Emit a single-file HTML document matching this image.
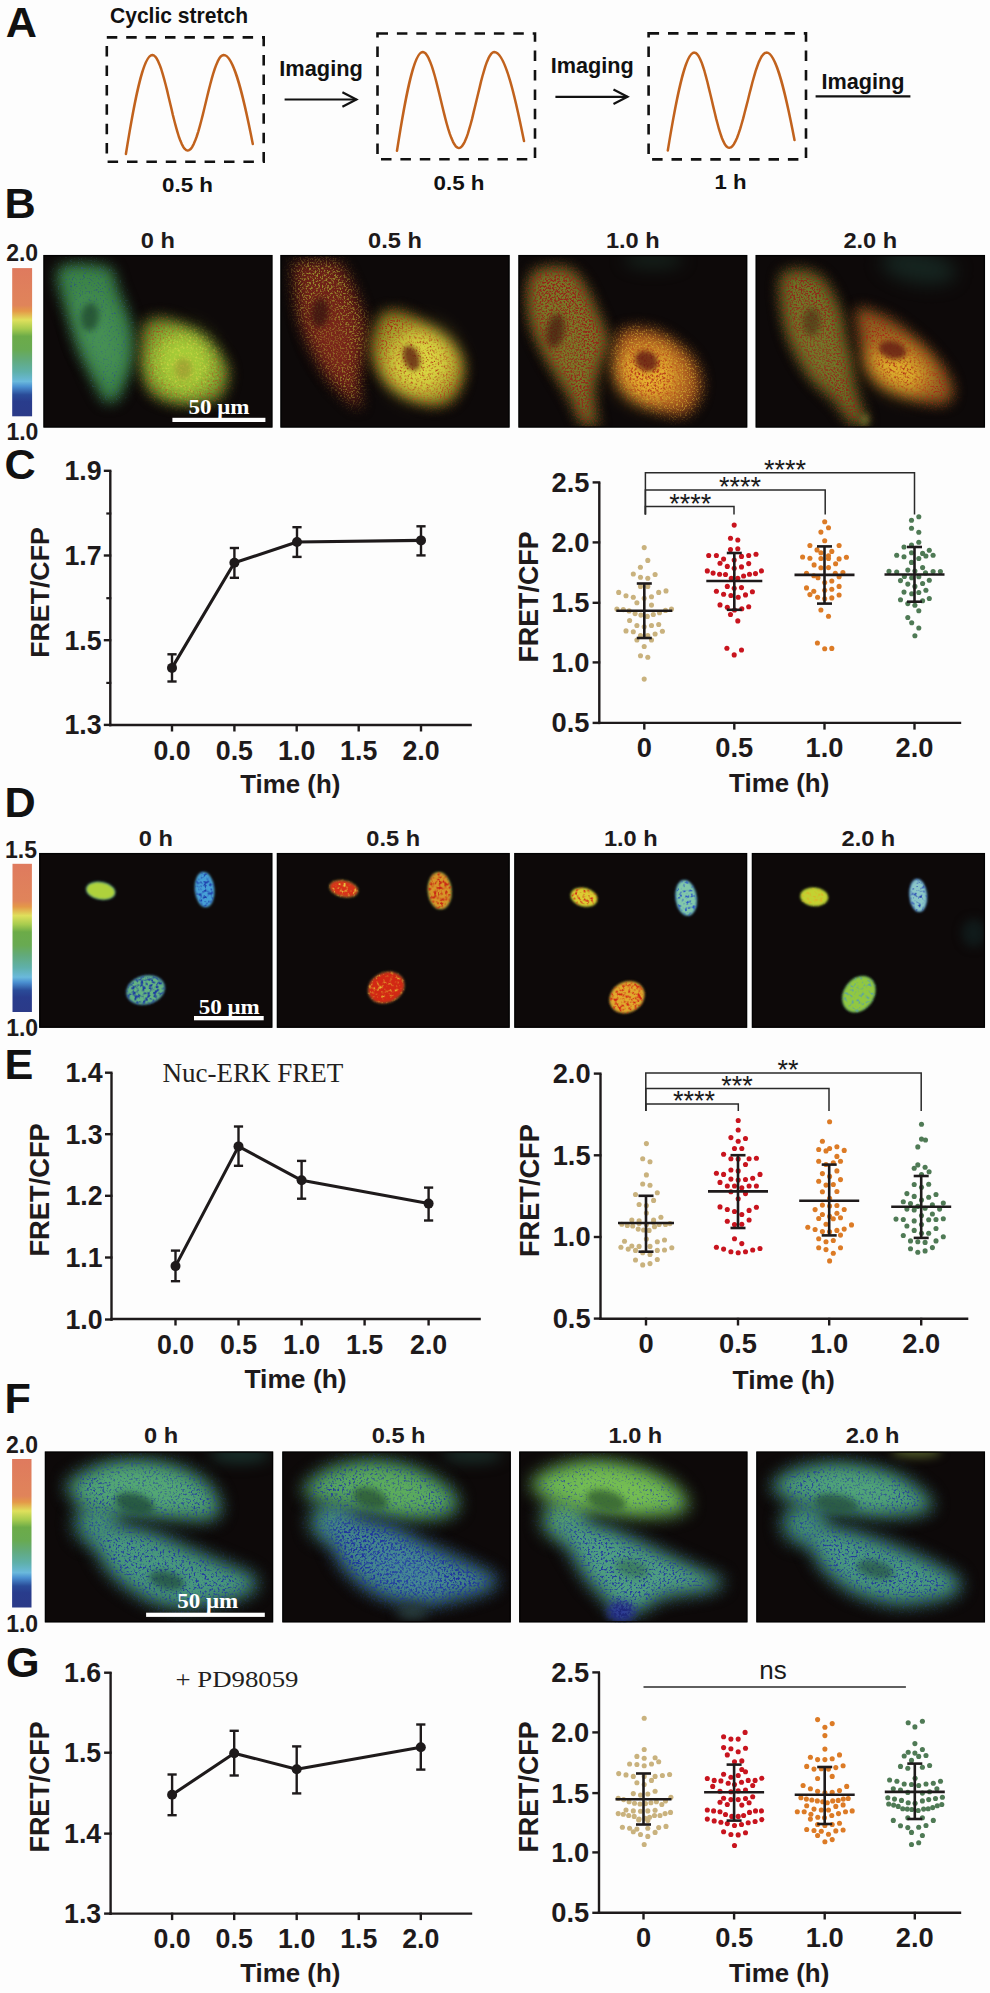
<!DOCTYPE html>
<html><head><meta charset="utf-8"><title>Figure</title>
<style>html,body{margin:0;padding:0;background:#fdfdfd;overflow:hidden;width:990px;height:1993px;} svg{display:block;}</style></head>
<body><svg width="990" height="1993" viewBox="0 0 990 1993">
<defs><linearGradient id="cb1" x1="0" y1="0" x2="0" y2="1"><stop offset="0" stop-color="#df7a5e"/><stop offset="0.25" stop-color="#e0845a"/><stop offset="0.29" stop-color="#e49848"/><stop offset="0.35" stop-color="#dfe05c"/><stop offset="0.41" stop-color="#a6cb4e"/><stop offset="0.46" stop-color="#6cab48"/><stop offset="0.55" stop-color="#68aa52"/><stop offset="0.62" stop-color="#62aa7c"/><stop offset="0.7" stop-color="#5fb0aa"/><stop offset="0.765" stop-color="#6ab9dc"/><stop offset="0.8" stop-color="#4a8fd0"/><stop offset="0.855" stop-color="#2a4b98"/><stop offset="0.9" stop-color="#293c8c"/><stop offset="1" stop-color="#2b3a88"/></linearGradient><filter id="f3" filterUnits="userSpaceOnUse" x="-20" y="-20" width="269" height="213" color-interpolation-filters="sRGB"><feGaussianBlur in="SourceGraphic" stdDeviation="7" result="b"/><feTurbulence type="fractalNoise" baseFrequency="0.55" numOctaves="2" seed="3" result="n"/><feColorMatrix in="n" type="matrix" values="0 0 0 0 0.176 0 0 0 0 0.353 0 0 0 0 0.471 5 0 0 0 -2.850" result="s"/><feGaussianBlur in="s" stdDeviation="0.7" result="s2"/><feComposite in="s2" in2="b" operator="in" result="si"/><feMerge><feMergeNode in="b"/><feMergeNode in="si"/></feMerge></filter><filter id="f4" filterUnits="userSpaceOnUse" x="-20" y="-20" width="269" height="213" color-interpolation-filters="sRGB"><feGaussianBlur stdDeviation="10"/></filter><filter id="f5" filterUnits="userSpaceOnUse" x="-20" y="-20" width="269" height="213" color-interpolation-filters="sRGB"><feGaussianBlur stdDeviation="3"/></filter><filter id="f6" filterUnits="userSpaceOnUse" x="-20" y="-20" width="269" height="213" color-interpolation-filters="sRGB"><feGaussianBlur in="SourceGraphic" stdDeviation="7" result="b"/><feTurbulence type="fractalNoise" baseFrequency="0.55" numOctaves="2" seed="6" result="n"/><feColorMatrix in="n" type="matrix" values="0 0 0 0 0.627 0 0 0 0 0.235 0 0 0 0 0.098 5 0 0 0 -2.550" result="s"/><feGaussianBlur in="s" stdDeviation="0.7" result="s2"/><feComposite in="s2" in2="b" operator="in" result="si"/><feMerge><feMergeNode in="b"/><feMergeNode in="si"/></feMerge></filter><filter id="f7" filterUnits="userSpaceOnUse" x="-20" y="-20" width="269" height="213" color-interpolation-filters="sRGB"><feGaussianBlur in="SourceGraphic" stdDeviation="10" result="b"/><feTurbulence type="fractalNoise" baseFrequency="0.55" numOctaves="2" seed="7" result="n"/><feColorMatrix in="n" type="matrix" values="0 0 0 0 0.824 0 0 0 0 0.843 0 0 0 0 0.275 5 0 0 0 -2.650" result="s"/><feGaussianBlur in="s" stdDeviation="0.7" result="s2"/><feComposite in="s2" in2="b" operator="in" result="si"/><feMerge><feMergeNode in="b"/><feMergeNode in="si"/></feMerge></filter><filter id="f8" filterUnits="userSpaceOnUse" x="-20" y="-20" width="269" height="213" color-interpolation-filters="sRGB"><feGaussianBlur stdDeviation="3"/></filter><filter id="f10" filterUnits="userSpaceOnUse" x="-20" y="-20" width="269" height="213" color-interpolation-filters="sRGB"><feGaussianBlur in="SourceGraphic" stdDeviation="7" result="b"/><feTurbulence type="fractalNoise" baseFrequency="0.55" numOctaves="2" seed="10" result="n"/><feColorMatrix in="n" type="matrix" values="0 0 0 0 0.588 0 0 0 0 0.549 0 0 0 0 0.176 5 0 0 0 -2.450" result="s"/><feGaussianBlur in="s" stdDeviation="0.7" result="s2"/><feComposite in="s2" in2="b" operator="in" result="si"/><feMerge><feMergeNode in="b"/><feMergeNode in="si"/></feMerge></filter><filter id="f11" filterUnits="userSpaceOnUse" x="-20" y="-20" width="269" height="213" color-interpolation-filters="sRGB"><feGaussianBlur stdDeviation="10"/></filter><filter id="f12" filterUnits="userSpaceOnUse" x="-20" y="-20" width="269" height="213" color-interpolation-filters="sRGB"><feGaussianBlur stdDeviation="3"/></filter><filter id="f13" filterUnits="userSpaceOnUse" x="-20" y="-20" width="269" height="213" color-interpolation-filters="sRGB"><feGaussianBlur in="SourceGraphic" stdDeviation="7" result="b"/><feTurbulence type="fractalNoise" baseFrequency="0.55" numOctaves="2" seed="13" result="n"/><feColorMatrix in="n" type="matrix" values="0 0 0 0 0.647 0 0 0 0 0.157 0 0 0 0 0.078 5 0 0 0 -2.450" result="s"/><feGaussianBlur in="s" stdDeviation="0.7" result="s2"/><feComposite in="s2" in2="b" operator="in" result="si"/><feMerge><feMergeNode in="b"/><feMergeNode in="si"/></feMerge></filter><filter id="f14" filterUnits="userSpaceOnUse" x="-20" y="-20" width="269" height="213" color-interpolation-filters="sRGB"><feGaussianBlur in="SourceGraphic" stdDeviation="10" result="b"/><feTurbulence type="fractalNoise" baseFrequency="0.55" numOctaves="2" seed="14" result="n"/><feColorMatrix in="n" type="matrix" values="0 0 0 0 0.686 0 0 0 0 0.176 0 0 0 0 0.078 5 0 0 0 -2.750" result="s"/><feGaussianBlur in="s" stdDeviation="0.7" result="s2"/><feComposite in="s2" in2="b" operator="in" result="si"/><feMerge><feMergeNode in="b"/><feMergeNode in="si"/></feMerge></filter><filter id="f15" filterUnits="userSpaceOnUse" x="-20" y="-20" width="269" height="213" color-interpolation-filters="sRGB"><feGaussianBlur stdDeviation="2.5"/></filter><filter id="f17" filterUnits="userSpaceOnUse" x="-20" y="-20" width="269" height="213" color-interpolation-filters="sRGB"><feGaussianBlur stdDeviation="8"/></filter><filter id="f18" filterUnits="userSpaceOnUse" x="-20" y="-20" width="269" height="213" color-interpolation-filters="sRGB"><feGaussianBlur in="SourceGraphic" stdDeviation="7" result="b"/><feTurbulence type="fractalNoise" baseFrequency="0.55" numOctaves="2" seed="18" result="n"/><feColorMatrix in="n" type="matrix" values="0 0 0 0 0.588 0 0 0 0 0.137 0 0 0 0 0.098 5 0 0 0 -2.200" result="s"/><feGaussianBlur in="s" stdDeviation="0.7" result="s2"/><feComposite in="s2" in2="b" operator="in" result="si"/><feMerge><feMergeNode in="b"/><feMergeNode in="si"/></feMerge></filter><filter id="f19" filterUnits="userSpaceOnUse" x="-20" y="-20" width="269" height="213" color-interpolation-filters="sRGB"><feGaussianBlur stdDeviation="10"/></filter><filter id="f20" filterUnits="userSpaceOnUse" x="-20" y="-20" width="269" height="213" color-interpolation-filters="sRGB"><feGaussianBlur stdDeviation="3"/></filter><filter id="f21" filterUnits="userSpaceOnUse" x="-20" y="-20" width="269" height="213" color-interpolation-filters="sRGB"><feGaussianBlur in="SourceGraphic" stdDeviation="7" result="b"/><feTurbulence type="fractalNoise" baseFrequency="0.55" numOctaves="2" seed="21" result="n"/><feColorMatrix in="n" type="matrix" values="0 0 0 0 0.745 0 0 0 0 0.588 0 0 0 0 0.176 5 0 0 0 -2.550" result="s"/><feGaussianBlur in="s" stdDeviation="0.7" result="s2"/><feComposite in="s2" in2="b" operator="in" result="si"/><feMerge><feMergeNode in="b"/><feMergeNode in="si"/></feMerge></filter><filter id="f22" filterUnits="userSpaceOnUse" x="-20" y="-20" width="269" height="213" color-interpolation-filters="sRGB"><feGaussianBlur in="SourceGraphic" stdDeviation="10" result="b"/><feTurbulence type="fractalNoise" baseFrequency="0.55" numOctaves="2" seed="22" result="n"/><feColorMatrix in="n" type="matrix" values="0 0 0 0 0.686 0 0 0 0 0.137 0 0 0 0 0.078 5 0 0 0 -2.450" result="s"/><feGaussianBlur in="s" stdDeviation="0.7" result="s2"/><feComposite in="s2" in2="b" operator="in" result="si"/><feMerge><feMergeNode in="b"/><feMergeNode in="si"/></feMerge></filter><filter id="f23" filterUnits="userSpaceOnUse" x="-20" y="-20" width="269" height="213" color-interpolation-filters="sRGB"><feGaussianBlur stdDeviation="2.5"/></filter><filter id="f25" filterUnits="userSpaceOnUse" x="-20" y="-20" width="269" height="213" color-interpolation-filters="sRGB"><feGaussianBlur stdDeviation="9"/></filter><filter id="f26" filterUnits="userSpaceOnUse" x="-20" y="-20" width="269" height="213" color-interpolation-filters="sRGB"><feGaussianBlur in="SourceGraphic" stdDeviation="7" result="b"/><feTurbulence type="fractalNoise" baseFrequency="0.55" numOctaves="2" seed="26" result="n"/><feColorMatrix in="n" type="matrix" values="0 0 0 0 0.569 0 0 0 0 0.137 0 0 0 0 0.098 5 0 0 0 -2.250" result="s"/><feGaussianBlur in="s" stdDeviation="0.7" result="s2"/><feComposite in="s2" in2="b" operator="in" result="si"/><feMerge><feMergeNode in="b"/><feMergeNode in="si"/></feMerge></filter><filter id="f27" filterUnits="userSpaceOnUse" x="-20" y="-20" width="269" height="213" color-interpolation-filters="sRGB"><feGaussianBlur stdDeviation="10"/></filter><filter id="f28" filterUnits="userSpaceOnUse" x="-20" y="-20" width="269" height="213" color-interpolation-filters="sRGB"><feGaussianBlur stdDeviation="3"/></filter><filter id="f29" filterUnits="userSpaceOnUse" x="-20" y="-20" width="269" height="213" color-interpolation-filters="sRGB"><feGaussianBlur in="SourceGraphic" stdDeviation="7" result="b"/><feTurbulence type="fractalNoise" baseFrequency="0.55" numOctaves="2" seed="29" result="n"/><feColorMatrix in="n" type="matrix" values="0 0 0 0 0.627 0 0 0 0 0.137 0 0 0 0 0.086 5 0 0 0 -2.450" result="s"/><feGaussianBlur in="s" stdDeviation="0.7" result="s2"/><feComposite in="s2" in2="b" operator="in" result="si"/><feMerge><feMergeNode in="b"/><feMergeNode in="si"/></feMerge></filter><filter id="f30" filterUnits="userSpaceOnUse" x="-20" y="-20" width="269" height="213" color-interpolation-filters="sRGB"><feGaussianBlur in="SourceGraphic" stdDeviation="10" result="b"/><feTurbulence type="fractalNoise" baseFrequency="0.55" numOctaves="2" seed="30" result="n"/><feColorMatrix in="n" type="matrix" values="0 0 0 0 0.686 0 0 0 0 0.137 0 0 0 0 0.078 5 0 0 0 -2.550" result="s"/><feGaussianBlur in="s" stdDeviation="0.7" result="s2"/><feComposite in="s2" in2="b" operator="in" result="si"/><feMerge><feMergeNode in="b"/><feMergeNode in="si"/></feMerge></filter><filter id="f31" filterUnits="userSpaceOnUse" x="-20" y="-20" width="269" height="213" color-interpolation-filters="sRGB"><feGaussianBlur stdDeviation="2.5"/></filter><filter id="f32" filterUnits="userSpaceOnUse" x="-20" y="-20" width="269" height="213" color-interpolation-filters="sRGB"><feGaussianBlur stdDeviation="3"/></filter><linearGradient id="cb33" x1="0" y1="0" x2="0" y2="1"><stop offset="0" stop-color="#df7a5e"/><stop offset="0.25" stop-color="#e0845a"/><stop offset="0.29" stop-color="#e49848"/><stop offset="0.35" stop-color="#dfe05c"/><stop offset="0.41" stop-color="#a6cb4e"/><stop offset="0.46" stop-color="#6cab48"/><stop offset="0.55" stop-color="#68aa52"/><stop offset="0.62" stop-color="#62aa7c"/><stop offset="0.7" stop-color="#5fb0aa"/><stop offset="0.765" stop-color="#6ab9dc"/><stop offset="0.8" stop-color="#4a8fd0"/><stop offset="0.855" stop-color="#2a4b98"/><stop offset="0.9" stop-color="#293c8c"/><stop offset="1" stop-color="#2b3a88"/></linearGradient><filter id="f35" filterUnits="userSpaceOnUse" x="-20" y="-20" width="273" height="215" color-interpolation-filters="sRGB"><feGaussianBlur stdDeviation="1.5"/></filter><filter id="f36" filterUnits="userSpaceOnUse" x="-20" y="-20" width="273" height="215" color-interpolation-filters="sRGB"><feGaussianBlur stdDeviation="1.0"/></filter><filter id="f37" filterUnits="userSpaceOnUse" x="-20" y="-20" width="273" height="215" color-interpolation-filters="sRGB"><feGaussianBlur stdDeviation="1.5"/></filter><filter id="f38" filterUnits="userSpaceOnUse" x="-20" y="-20" width="273" height="215" color-interpolation-filters="sRGB"><feGaussianBlur in="SourceGraphic" stdDeviation="1.0" result="b"/><feTurbulence type="fractalNoise" baseFrequency="0.35" numOctaves="2" seed="38" result="n"/><feColorMatrix in="n" type="matrix" values="0 0 0 0 0.118 0 0 0 0 0.235 0 0 0 0 0.667 5 0 0 0 -2.450" result="s"/><feGaussianBlur in="s" stdDeviation="0.7" result="s2"/><feComposite in="s2" in2="b" operator="in" result="si"/><feMerge><feMergeNode in="b"/><feMergeNode in="si"/></feMerge></filter><filter id="f39" filterUnits="userSpaceOnUse" x="-20" y="-20" width="273" height="215" color-interpolation-filters="sRGB"><feGaussianBlur stdDeviation="1.5"/></filter><filter id="f40" filterUnits="userSpaceOnUse" x="-20" y="-20" width="273" height="215" color-interpolation-filters="sRGB"><feGaussianBlur in="SourceGraphic" stdDeviation="1.0" result="b"/><feTurbulence type="fractalNoise" baseFrequency="0.3" numOctaves="2" seed="40" result="n"/><feColorMatrix in="n" type="matrix" values="0 0 0 0 0.118 0 0 0 0 0.235 0 0 0 0 0.627 5 0 0 0 -2.350" result="s"/><feGaussianBlur in="s" stdDeviation="0.7" result="s2"/><feComposite in="s2" in2="b" operator="in" result="si"/><feMerge><feMergeNode in="b"/><feMergeNode in="si"/></feMerge></filter><filter id="f42" filterUnits="userSpaceOnUse" x="-20" y="-20" width="273" height="215" color-interpolation-filters="sRGB"><feGaussianBlur stdDeviation="1.5"/></filter><filter id="f43" filterUnits="userSpaceOnUse" x="-20" y="-20" width="273" height="215" color-interpolation-filters="sRGB"><feGaussianBlur in="SourceGraphic" stdDeviation="1.0" result="b"/><feTurbulence type="fractalNoise" baseFrequency="0.35" numOctaves="2" seed="43" result="n"/><feColorMatrix in="n" type="matrix" values="0 0 0 0 0.902 0 0 0 0 0.784 0 0 0 0 0.235 5 0 0 0 -2.750" result="s"/><feGaussianBlur in="s" stdDeviation="0.7" result="s2"/><feComposite in="s2" in2="b" operator="in" result="si"/><feMerge><feMergeNode in="b"/><feMergeNode in="si"/></feMerge></filter><filter id="f44" filterUnits="userSpaceOnUse" x="-20" y="-20" width="273" height="215" color-interpolation-filters="sRGB"><feGaussianBlur stdDeviation="1.5"/></filter><filter id="f45" filterUnits="userSpaceOnUse" x="-20" y="-20" width="273" height="215" color-interpolation-filters="sRGB"><feGaussianBlur in="SourceGraphic" stdDeviation="1.0" result="b"/><feTurbulence type="fractalNoise" baseFrequency="0.35" numOctaves="2" seed="45" result="n"/><feColorMatrix in="n" type="matrix" values="0 0 0 0 0.784 0 0 0 0 0.157 0 0 0 0 0.078 5 0 0 0 -2.350" result="s"/><feGaussianBlur in="s" stdDeviation="0.7" result="s2"/><feComposite in="s2" in2="b" operator="in" result="si"/><feMerge><feMergeNode in="b"/><feMergeNode in="si"/></feMerge></filter><filter id="f46" filterUnits="userSpaceOnUse" x="-20" y="-20" width="273" height="215" color-interpolation-filters="sRGB"><feGaussianBlur stdDeviation="1.5"/></filter><filter id="f47" filterUnits="userSpaceOnUse" x="-20" y="-20" width="273" height="215" color-interpolation-filters="sRGB"><feGaussianBlur in="SourceGraphic" stdDeviation="1.0" result="b"/><feTurbulence type="fractalNoise" baseFrequency="0.35" numOctaves="2" seed="47" result="n"/><feColorMatrix in="n" type="matrix" values="0 0 0 0 0.902 0 0 0 0 0.745 0 0 0 0 0.196 5 0 0 0 -2.750" result="s"/><feGaussianBlur in="s" stdDeviation="0.7" result="s2"/><feComposite in="s2" in2="b" operator="in" result="si"/><feMerge><feMergeNode in="b"/><feMergeNode in="si"/></feMerge></filter><filter id="f49" filterUnits="userSpaceOnUse" x="-20" y="-20" width="273" height="215" color-interpolation-filters="sRGB"><feGaussianBlur stdDeviation="1.5"/></filter><filter id="f50" filterUnits="userSpaceOnUse" x="-20" y="-20" width="273" height="215" color-interpolation-filters="sRGB"><feGaussianBlur in="SourceGraphic" stdDeviation="1.0" result="b"/><feTurbulence type="fractalNoise" baseFrequency="0.35" numOctaves="2" seed="50" result="n"/><feColorMatrix in="n" type="matrix" values="0 0 0 0 0.824 0 0 0 0 0.196 0 0 0 0 0.098 5 0 0 0 -2.550" result="s"/><feGaussianBlur in="s" stdDeviation="0.7" result="s2"/><feComposite in="s2" in2="b" operator="in" result="si"/><feMerge><feMergeNode in="b"/><feMergeNode in="si"/></feMerge></filter><filter id="f51" filterUnits="userSpaceOnUse" x="-20" y="-20" width="273" height="215" color-interpolation-filters="sRGB"><feGaussianBlur stdDeviation="1.5"/></filter><filter id="f52" filterUnits="userSpaceOnUse" x="-20" y="-20" width="273" height="215" color-interpolation-filters="sRGB"><feGaussianBlur in="SourceGraphic" stdDeviation="1.0" result="b"/><feTurbulence type="fractalNoise" baseFrequency="0.35" numOctaves="2" seed="52" result="n"/><feColorMatrix in="n" type="matrix" values="0 0 0 0 0.157 0 0 0 0 0.314 0 0 0 0 0.784 5 0 0 0 -2.650" result="s"/><feGaussianBlur in="s" stdDeviation="0.7" result="s2"/><feComposite in="s2" in2="b" operator="in" result="si"/><feMerge><feMergeNode in="b"/><feMergeNode in="si"/></feMerge></filter><filter id="f53" filterUnits="userSpaceOnUse" x="-20" y="-20" width="273" height="215" color-interpolation-filters="sRGB"><feGaussianBlur stdDeviation="1.5"/></filter><filter id="f54" filterUnits="userSpaceOnUse" x="-20" y="-20" width="273" height="215" color-interpolation-filters="sRGB"><feGaussianBlur in="SourceGraphic" stdDeviation="1.0" result="b"/><feTurbulence type="fractalNoise" baseFrequency="0.35" numOctaves="2" seed="54" result="n"/><feColorMatrix in="n" type="matrix" values="0 0 0 0 0.824 0 0 0 0 0.157 0 0 0 0 0.078 5 0 0 0 -2.450" result="s"/><feGaussianBlur in="s" stdDeviation="0.7" result="s2"/><feComposite in="s2" in2="b" operator="in" result="si"/><feMerge><feMergeNode in="b"/><feMergeNode in="si"/></feMerge></filter><filter id="f56" filterUnits="userSpaceOnUse" x="-20" y="-20" width="273" height="215" color-interpolation-filters="sRGB"><feGaussianBlur stdDeviation="5"/></filter><filter id="f57" filterUnits="userSpaceOnUse" x="-20" y="-20" width="273" height="215" color-interpolation-filters="sRGB"><feGaussianBlur stdDeviation="1.5"/></filter><filter id="f58" filterUnits="userSpaceOnUse" x="-20" y="-20" width="273" height="215" color-interpolation-filters="sRGB"><feGaussianBlur in="SourceGraphic" stdDeviation="1.0" result="b"/><feTurbulence type="fractalNoise" baseFrequency="0.35" numOctaves="2" seed="58" result="n"/><feColorMatrix in="n" type="matrix" values="0 0 0 0 0.863 0 0 0 0 0.706 0 0 0 0 0.157 5 0 0 0 -2.650" result="s"/><feGaussianBlur in="s" stdDeviation="0.7" result="s2"/><feComposite in="s2" in2="b" operator="in" result="si"/><feMerge><feMergeNode in="b"/><feMergeNode in="si"/></feMerge></filter><filter id="f59" filterUnits="userSpaceOnUse" x="-20" y="-20" width="273" height="215" color-interpolation-filters="sRGB"><feGaussianBlur stdDeviation="1.5"/></filter><filter id="f60" filterUnits="userSpaceOnUse" x="-20" y="-20" width="273" height="215" color-interpolation-filters="sRGB"><feGaussianBlur in="SourceGraphic" stdDeviation="1.0" result="b"/><feTurbulence type="fractalNoise" baseFrequency="0.35" numOctaves="2" seed="60" result="n"/><feColorMatrix in="n" type="matrix" values="0 0 0 0 0.157 0 0 0 0 0.275 0 0 0 0 0.706 5 0 0 0 -2.750" result="s"/><feGaussianBlur in="s" stdDeviation="0.7" result="s2"/><feComposite in="s2" in2="b" operator="in" result="si"/><feMerge><feMergeNode in="b"/><feMergeNode in="si"/></feMerge></filter><filter id="f61" filterUnits="userSpaceOnUse" x="-20" y="-20" width="273" height="215" color-interpolation-filters="sRGB"><feGaussianBlur stdDeviation="1.5"/></filter><filter id="f62" filterUnits="userSpaceOnUse" x="-20" y="-20" width="273" height="215" color-interpolation-filters="sRGB"><feGaussianBlur in="SourceGraphic" stdDeviation="1.0" result="b"/><feTurbulence type="fractalNoise" baseFrequency="0.35" numOctaves="2" seed="62" result="n"/><feColorMatrix in="n" type="matrix" values="0 0 0 0 0.353 0 0 0 0 0.627 0 0 0 0 0.667 5 0 0 0 -2.750" result="s"/><feGaussianBlur in="s" stdDeviation="0.7" result="s2"/><feComposite in="s2" in2="b" operator="in" result="si"/><feMerge><feMergeNode in="b"/><feMergeNode in="si"/></feMerge></filter><linearGradient id="cb63" x1="0" y1="0" x2="0" y2="1"><stop offset="0" stop-color="#df7a5e"/><stop offset="0.25" stop-color="#e0845a"/><stop offset="0.29" stop-color="#e49848"/><stop offset="0.35" stop-color="#dfe05c"/><stop offset="0.41" stop-color="#a6cb4e"/><stop offset="0.46" stop-color="#6cab48"/><stop offset="0.55" stop-color="#68aa52"/><stop offset="0.62" stop-color="#62aa7c"/><stop offset="0.7" stop-color="#5fb0aa"/><stop offset="0.765" stop-color="#6ab9dc"/><stop offset="0.8" stop-color="#4a8fd0"/><stop offset="0.855" stop-color="#2a4b98"/><stop offset="0.9" stop-color="#293c8c"/><stop offset="1" stop-color="#2b3a88"/></linearGradient><filter id="f65" filterUnits="userSpaceOnUse" x="-20" y="-20" width="268" height="211" color-interpolation-filters="sRGB"><feGaussianBlur in="SourceGraphic" stdDeviation="9" result="b"/><feTurbulence type="fractalNoise" baseFrequency="0.45" numOctaves="2" seed="65" result="n"/><feColorMatrix in="n" type="matrix" values="0 0 0 0 0.137 0 0 0 0 0.235 0 0 0 0 0.627 5 0 0 0 -2.600" result="s"/><feGaussianBlur in="s" stdDeviation="0.7" result="s2"/><feComposite in="s2" in2="b" operator="in" result="si"/><feMerge><feMergeNode in="b"/><feMergeNode in="si"/></feMerge></filter><filter id="f66" filterUnits="userSpaceOnUse" x="-20" y="-20" width="268" height="211" color-interpolation-filters="sRGB"><feGaussianBlur stdDeviation="7"/></filter><filter id="f67" filterUnits="userSpaceOnUse" x="-20" y="-20" width="268" height="211" color-interpolation-filters="sRGB"><feGaussianBlur in="SourceGraphic" stdDeviation="8.5" result="b"/><feTurbulence type="fractalNoise" baseFrequency="0.45" numOctaves="2" seed="67" result="n"/><feColorMatrix in="n" type="matrix" values="0 0 0 0 0.137 0 0 0 0 0.235 0 0 0 0 0.627 5 0 0 0 -2.600" result="s"/><feGaussianBlur in="s" stdDeviation="0.7" result="s2"/><feComposite in="s2" in2="b" operator="in" result="si"/><feMerge><feMergeNode in="b"/><feMergeNode in="si"/></feMerge></filter><filter id="f68" filterUnits="userSpaceOnUse" x="-20" y="-20" width="268" height="211" color-interpolation-filters="sRGB"><feGaussianBlur stdDeviation="10"/></filter><filter id="f69" filterUnits="userSpaceOnUse" x="-20" y="-20" width="268" height="211" color-interpolation-filters="sRGB"><feGaussianBlur stdDeviation="3"/></filter><filter id="f70" filterUnits="userSpaceOnUse" x="-20" y="-20" width="268" height="211" color-interpolation-filters="sRGB"><feGaussianBlur in="SourceGraphic" stdDeviation="8.5" result="b"/><feTurbulence type="fractalNoise" baseFrequency="0.45" numOctaves="2" seed="70" result="n"/><feColorMatrix in="n" type="matrix" values="0 0 0 0 0.137 0 0 0 0 0.235 0 0 0 0 0.627 5 0 0 0 -2.600" result="s"/><feGaussianBlur in="s" stdDeviation="0.7" result="s2"/><feComposite in="s2" in2="b" operator="in" result="si"/><feMerge><feMergeNode in="b"/><feMergeNode in="si"/></feMerge></filter><filter id="f71" filterUnits="userSpaceOnUse" x="-20" y="-20" width="268" height="211" color-interpolation-filters="sRGB"><feGaussianBlur stdDeviation="3"/></filter><filter id="f73" filterUnits="userSpaceOnUse" x="-20" y="-20" width="268" height="211" color-interpolation-filters="sRGB"><feGaussianBlur in="SourceGraphic" stdDeviation="9" result="b"/><feTurbulence type="fractalNoise" baseFrequency="0.45" numOctaves="2" seed="73" result="n"/><feColorMatrix in="n" type="matrix" values="0 0 0 0 0.137 0 0 0 0 0.235 0 0 0 0 0.627 5 0 0 0 -2.600" result="s"/><feGaussianBlur in="s" stdDeviation="0.7" result="s2"/><feComposite in="s2" in2="b" operator="in" result="si"/><feMerge><feMergeNode in="b"/><feMergeNode in="si"/></feMerge></filter><filter id="f74" filterUnits="userSpaceOnUse" x="-20" y="-20" width="268" height="211" color-interpolation-filters="sRGB"><feGaussianBlur stdDeviation="7"/></filter><filter id="f75" filterUnits="userSpaceOnUse" x="-20" y="-20" width="268" height="211" color-interpolation-filters="sRGB"><feGaussianBlur in="SourceGraphic" stdDeviation="8.5" result="b"/><feTurbulence type="fractalNoise" baseFrequency="0.45" numOctaves="2" seed="75" result="n"/><feColorMatrix in="n" type="matrix" values="0 0 0 0 0.137 0 0 0 0 0.235 0 0 0 0 0.627 5 0 0 0 -2.600" result="s"/><feGaussianBlur in="s" stdDeviation="0.7" result="s2"/><feComposite in="s2" in2="b" operator="in" result="si"/><feMerge><feMergeNode in="b"/><feMergeNode in="si"/></feMerge></filter><filter id="f76" filterUnits="userSpaceOnUse" x="-20" y="-20" width="268" height="211" color-interpolation-filters="sRGB"><feGaussianBlur stdDeviation="10"/></filter><filter id="f77" filterUnits="userSpaceOnUse" x="-20" y="-20" width="268" height="211" color-interpolation-filters="sRGB"><feGaussianBlur stdDeviation="3"/></filter><filter id="f78" filterUnits="userSpaceOnUse" x="-20" y="-20" width="268" height="211" color-interpolation-filters="sRGB"><feGaussianBlur in="SourceGraphic" stdDeviation="8.5" result="b"/><feTurbulence type="fractalNoise" baseFrequency="0.45" numOctaves="2" seed="78" result="n"/><feColorMatrix in="n" type="matrix" values="0 0 0 0 0.118 0 0 0 0 0.196 0 0 0 0 0.627 5 0 0 0 -2.300" result="s"/><feGaussianBlur in="s" stdDeviation="0.7" result="s2"/><feComposite in="s2" in2="b" operator="in" result="si"/><feMerge><feMergeNode in="b"/><feMergeNode in="si"/></feMerge></filter><filter id="f79" filterUnits="userSpaceOnUse" x="-20" y="-20" width="268" height="211" color-interpolation-filters="sRGB"><feGaussianBlur stdDeviation="10"/></filter><filter id="f80" filterUnits="userSpaceOnUse" x="-20" y="-20" width="268" height="211" color-interpolation-filters="sRGB"><feGaussianBlur stdDeviation="6"/></filter><filter id="f82" filterUnits="userSpaceOnUse" x="-20" y="-20" width="268" height="211" color-interpolation-filters="sRGB"><feGaussianBlur in="SourceGraphic" stdDeviation="9" result="b"/><feTurbulence type="fractalNoise" baseFrequency="0.45" numOctaves="2" seed="82" result="n"/><feColorMatrix in="n" type="matrix" values="0 0 0 0 0.137 0 0 0 0 0.235 0 0 0 0 0.627 5 0 0 0 -2.600" result="s"/><feGaussianBlur in="s" stdDeviation="0.7" result="s2"/><feComposite in="s2" in2="b" operator="in" result="si"/><feMerge><feMergeNode in="b"/><feMergeNode in="si"/></feMerge></filter><filter id="f83" filterUnits="userSpaceOnUse" x="-20" y="-20" width="268" height="211" color-interpolation-filters="sRGB"><feGaussianBlur in="SourceGraphic" stdDeviation="8.5" result="b"/><feTurbulence type="fractalNoise" baseFrequency="0.45" numOctaves="2" seed="83" result="n"/><feColorMatrix in="n" type="matrix" values="0 0 0 0 0.196 0 0 0 0 0.314 0 0 0 0 0.588 5 0 0 0 -2.850" result="s"/><feGaussianBlur in="s" stdDeviation="0.7" result="s2"/><feComposite in="s2" in2="b" operator="in" result="si"/><feMerge><feMergeNode in="b"/><feMergeNode in="si"/></feMerge></filter><filter id="f84" filterUnits="userSpaceOnUse" x="-20" y="-20" width="268" height="211" color-interpolation-filters="sRGB"><feGaussianBlur stdDeviation="10"/></filter><filter id="f85" filterUnits="userSpaceOnUse" x="-20" y="-20" width="268" height="211" color-interpolation-filters="sRGB"><feGaussianBlur stdDeviation="3"/></filter><filter id="f86" filterUnits="userSpaceOnUse" x="-20" y="-20" width="268" height="211" color-interpolation-filters="sRGB"><feGaussianBlur in="SourceGraphic" stdDeviation="8.5" result="b"/><feTurbulence type="fractalNoise" baseFrequency="0.45" numOctaves="2" seed="86" result="n"/><feColorMatrix in="n" type="matrix" values="0 0 0 0 0.137 0 0 0 0 0.235 0 0 0 0 0.627 5 0 0 0 -2.600" result="s"/><feGaussianBlur in="s" stdDeviation="0.7" result="s2"/><feComposite in="s2" in2="b" operator="in" result="si"/><feMerge><feMergeNode in="b"/><feMergeNode in="si"/></feMerge></filter><filter id="f87" filterUnits="userSpaceOnUse" x="-20" y="-20" width="268" height="211" color-interpolation-filters="sRGB"><feGaussianBlur stdDeviation="3.5"/></filter><filter id="f88" filterUnits="userSpaceOnUse" x="-20" y="-20" width="268" height="211" color-interpolation-filters="sRGB"><feGaussianBlur in="SourceGraphic" stdDeviation="4" result="b"/><feTurbulence type="fractalNoise" baseFrequency="0.4" numOctaves="2" seed="88" result="n"/><feColorMatrix in="n" type="matrix" values="0 0 0 0 0.118 0 0 0 0 0.157 0 0 0 0 0.471 5 0 0 0 -1.950" result="s"/><feGaussianBlur in="s" stdDeviation="0.7" result="s2"/><feComposite in="s2" in2="b" operator="in" result="si"/><feMerge><feMergeNode in="b"/><feMergeNode in="si"/></feMerge></filter><filter id="f90" filterUnits="userSpaceOnUse" x="-20" y="-20" width="269" height="211" color-interpolation-filters="sRGB"><feGaussianBlur in="SourceGraphic" stdDeviation="9" result="b"/><feTurbulence type="fractalNoise" baseFrequency="0.45" numOctaves="2" seed="90" result="n"/><feColorMatrix in="n" type="matrix" values="0 0 0 0 0.137 0 0 0 0 0.235 0 0 0 0 0.627 5 0 0 0 -2.600" result="s"/><feGaussianBlur in="s" stdDeviation="0.7" result="s2"/><feComposite in="s2" in2="b" operator="in" result="si"/><feMerge><feMergeNode in="b"/><feMergeNode in="si"/></feMerge></filter><filter id="f91" filterUnits="userSpaceOnUse" x="-20" y="-20" width="269" height="211" color-interpolation-filters="sRGB"><feGaussianBlur stdDeviation="5"/></filter><filter id="f92" filterUnits="userSpaceOnUse" x="-20" y="-20" width="269" height="211" color-interpolation-filters="sRGB"><feGaussianBlur in="SourceGraphic" stdDeviation="8.5" result="b"/><feTurbulence type="fractalNoise" baseFrequency="0.45" numOctaves="2" seed="92" result="n"/><feColorMatrix in="n" type="matrix" values="0 0 0 0 0.137 0 0 0 0 0.235 0 0 0 0 0.627 5 0 0 0 -2.600" result="s"/><feGaussianBlur in="s" stdDeviation="0.7" result="s2"/><feComposite in="s2" in2="b" operator="in" result="si"/><feMerge><feMergeNode in="b"/><feMergeNode in="si"/></feMerge></filter><filter id="f93" filterUnits="userSpaceOnUse" x="-20" y="-20" width="269" height="211" color-interpolation-filters="sRGB"><feGaussianBlur stdDeviation="10"/></filter><filter id="f94" filterUnits="userSpaceOnUse" x="-20" y="-20" width="269" height="211" color-interpolation-filters="sRGB"><feGaussianBlur stdDeviation="3"/></filter><filter id="f95" filterUnits="userSpaceOnUse" x="-20" y="-20" width="269" height="211" color-interpolation-filters="sRGB"><feGaussianBlur in="SourceGraphic" stdDeviation="8.5" result="b"/><feTurbulence type="fractalNoise" baseFrequency="0.45" numOctaves="2" seed="95" result="n"/><feColorMatrix in="n" type="matrix" values="0 0 0 0 0.137 0 0 0 0 0.235 0 0 0 0 0.627 5 0 0 0 -2.600" result="s"/><feGaussianBlur in="s" stdDeviation="0.7" result="s2"/><feComposite in="s2" in2="b" operator="in" result="si"/><feMerge><feMergeNode in="b"/><feMergeNode in="si"/></feMerge></filter><filter id="f96" filterUnits="userSpaceOnUse" x="-20" y="-20" width="269" height="211" color-interpolation-filters="sRGB"><feGaussianBlur stdDeviation="3"/></filter></defs>
<rect width="990" height="1993" fill="#fdfdfd"/>
<text x="5.8" y="37.3" font-family="Liberation Sans" font-size="43.2" font-weight="bold" text-anchor="start" fill="#111" >A</text>
<text x="4.5" y="217.9" font-family="Liberation Sans" font-size="43.2" font-weight="bold" text-anchor="start" fill="#111" >B</text>
<text x="4.6" y="479.2" font-family="Liberation Sans" font-size="43.2" font-weight="bold" text-anchor="start" fill="#111" >C</text>
<text x="4.5" y="816.7" font-family="Liberation Sans" font-size="43.2" font-weight="bold" text-anchor="start" fill="#111" >D</text>
<text x="4.5" y="1078.5" font-family="Liberation Sans" font-size="43.2" font-weight="bold" text-anchor="start" fill="#111" >E</text>
<text x="4.5" y="1412.7" font-family="Liberation Sans" font-size="43.2" font-weight="bold" text-anchor="start" fill="#111" >F</text>
<text x="6.0" y="1677.0" font-family="Liberation Sans" font-size="43.2" font-weight="bold" text-anchor="start" fill="#111" >G</text>
<text x="110.0" y="22.6" font-family="Liberation Sans" font-size="22.5" font-weight="bold" text-anchor="start" fill="#111" textLength="138" lengthAdjust="spacingAndGlyphs">Cyclic stretch</text>
<rect x="106.8" y="37.4" width="156.89999999999998" height="124.29999999999998" fill="none" stroke="#111" stroke-width="2.6" stroke-dasharray="10.5 8.9"/>
<path d="M125.9,154.0 C133.8,104.5 142.8,55.0 152.3,55.0 L153.8,55.4 L155.2,56.6 L156.7,58.6 L158.2,61.4 L159.7,64.9 L161.2,69.0 L162.6,73.7 L164.1,78.9 L165.6,84.5 L167.1,90.4 L168.5,96.5 L170.0,102.7 L171.5,109.0 L172.9,115.1 L174.4,121.0 L175.9,126.6 L177.4,131.8 L178.8,136.5 L180.3,140.6 L181.8,144.1 L183.3,146.9 L184.8,148.9 L186.2,150.1 L187.7,150.5 L189.2,150.1 L190.7,148.9 L192.2,146.9 L193.7,144.1 L195.2,140.6 L196.7,136.5 L198.2,131.8 L199.7,126.6 L201.2,121.0 L202.7,115.1 L204.2,109.0 L205.7,102.8 L207.2,96.5 L208.7,90.4 L210.2,84.5 L211.7,78.9 L213.2,73.7 L214.7,69.0 L216.2,64.9 L217.7,61.4 L219.2,58.6 L220.7,56.6 L222.2,55.4 L223.7,55.0 C234.2,55.0 244.1,99.5 252.8,144.0" fill="none" stroke="#c1621d" stroke-width="2.5" stroke-linecap="round" stroke-linejoin="round"/>
<text x="162.0" y="191.5" font-family="Liberation Sans" font-size="21" font-weight="bold" text-anchor="start" fill="#111" textLength="51" lengthAdjust="spacingAndGlyphs">0.5 h</text>
<rect x="377.5" y="33.5" width="157.5" height="125.80000000000001" fill="none" stroke="#111" stroke-width="2.6" stroke-dasharray="10.5 8.9"/>
<path d="M397.0,150.8 C404.7,101.4 413.4,52.0 422.7,52.0 L424.2,52.4 L425.7,53.6 L427.2,55.7 L428.7,58.4 L430.2,61.9 L431.8,66.1 L433.3,70.8 L434.8,76.0 L436.3,81.6 L437.8,87.6 L439.3,93.7 L440.8,100.0 L442.3,106.3 L443.8,112.4 L445.3,118.4 L446.8,124.0 L448.3,129.2 L449.8,133.9 L451.4,138.1 L452.9,141.6 L454.4,144.3 L455.9,146.4 L457.4,147.6 L458.9,148.0 L460.4,147.6 L461.8,146.4 L463.3,144.3 L464.8,141.6 L466.3,138.1 L467.8,133.9 L469.2,129.2 L470.7,124.0 L472.2,118.4 L473.6,112.4 L475.1,106.3 L476.6,100.0 L478.1,93.7 L479.6,87.6 L481.0,81.6 L482.5,76.0 L484.0,70.8 L485.4,66.1 L486.9,61.9 L488.4,58.4 L489.9,55.7 L491.4,53.6 L492.8,52.4 L494.3,52.0 C505.0,52.0 515.1,96.5 524.0,141.0" fill="none" stroke="#c1621d" stroke-width="2.5" stroke-linecap="round" stroke-linejoin="round"/>
<text x="433.5" y="190.0" font-family="Liberation Sans" font-size="21" font-weight="bold" text-anchor="start" fill="#111" textLength="51" lengthAdjust="spacingAndGlyphs">0.5 h</text>
<rect x="648.6" y="33.4" width="157.39999999999998" height="126.0" fill="none" stroke="#111" stroke-width="2.6" stroke-dasharray="10.5 8.9"/>
<path d="M667.8,150.5 C675.8,101.5 684.8,52.6 694.3,52.6 L695.8,53.0 L697.2,54.2 L698.7,56.2 L700.1,59.0 L701.6,62.4 L703.0,66.5 L704.5,71.2 L705.9,76.4 L707.4,82.0 L708.8,87.9 L710.3,94.0 L711.8,100.2 L713.2,106.4 L714.7,112.5 L716.1,118.4 L717.6,124.0 L719.0,129.2 L720.5,133.9 L721.9,138.0 L723.4,141.4 L724.8,144.2 L726.3,146.2 L727.7,147.4 L729.2,147.8 L730.8,147.4 L732.3,146.2 L733.9,144.2 L735.4,141.4 L737.0,138.0 L738.5,133.9 L740.1,129.2 L741.6,124.0 L743.2,118.4 L744.7,112.5 L746.3,106.4 L747.9,100.2 L749.4,94.0 L751.0,87.9 L752.5,82.0 L754.1,76.4 L755.6,71.2 L757.2,66.5 L758.7,62.4 L760.3,59.0 L761.8,56.2 L763.4,54.2 L764.9,53.0 L766.5,52.6 C776.6,52.6 786.1,96.3 794.5,140.0" fill="none" stroke="#c1621d" stroke-width="2.5" stroke-linecap="round" stroke-linejoin="round"/>
<text x="714.5" y="189.3" font-family="Liberation Sans" font-size="21" font-weight="bold" text-anchor="start" fill="#111" textLength="32" lengthAdjust="spacingAndGlyphs">1 h</text>
<text x="279.3" y="75.5" font-family="Liberation Sans" font-size="22" font-weight="bold" text-anchor="start" fill="#111" textLength="83.5" lengthAdjust="spacingAndGlyphs">Imaging</text>
<line x1="284.6" y1="99.5" x2="356.4" y2="99.5" stroke="#111" stroke-width="2.2" />
<polyline points="342.4,92.3 356.4,99.5 342.4,106.7" fill="none" stroke="#111" stroke-width="2.2" stroke-linejoin="miter"/>
<text x="550.7" y="73.0" font-family="Liberation Sans" font-size="22" font-weight="bold" text-anchor="start" fill="#111" textLength="83" lengthAdjust="spacingAndGlyphs">Imaging</text>
<line x1="555.4" y1="96.8" x2="627.5" y2="96.8" stroke="#111" stroke-width="2.2" />
<polyline points="613.5,89.6 627.5,96.8 613.5,104.0" fill="none" stroke="#111" stroke-width="2.2" stroke-linejoin="miter"/>
<text x="821.4" y="88.5" font-family="Liberation Sans" font-size="22" font-weight="bold" text-anchor="start" fill="#111" textLength="83" lengthAdjust="spacingAndGlyphs">Imaging</text>
<line x1="815.6" y1="96.4" x2="910.4" y2="96.4" stroke="#111" stroke-width="2.2" />
<rect x="12.2" y="268.1" width="19.900000000000002" height="148.2" fill="url(#cb1)"/>
<text x="6.2" y="260.5" font-family="Liberation Sans" font-size="23" font-weight="bold" text-anchor="start" fill="#1e1a1b" >2.0</text>
<text x="6.4" y="440.3" font-family="Liberation Sans" font-size="23" font-weight="bold" text-anchor="start" fill="#1e1a1b" >1.0</text>
<text transform="translate(157.9,247.5) scale(1.05,1)" font-family="Liberation Sans" font-size="22.5" font-weight="bold" text-anchor="middle" fill="#1e1a1b">0 h</text>
<text transform="translate(395.0,247.5) scale(1.05,1)" font-family="Liberation Sans" font-size="22.5" font-weight="bold" text-anchor="middle" fill="#1e1a1b">0.5 h</text>
<text transform="translate(632.8,247.5) scale(1.05,1)" font-family="Liberation Sans" font-size="22.5" font-weight="bold" text-anchor="middle" fill="#1e1a1b">1.0 h</text>
<text transform="translate(870.3,247.5) scale(1.05,1)" font-family="Liberation Sans" font-size="22.5" font-weight="bold" text-anchor="middle" fill="#1e1a1b">2.0 h</text>
<clipPath id="clip2"><rect x="43.4" y="255.0" width="229.1" height="172.6"/></clipPath>
<g clip-path="url(#clip2)">
<rect x="43.4" y="255.0" width="229.1" height="172.6" fill="#0d0909"/>
<g transform="translate(43.4,255.0)">
<path d="M16.2,12.4 C19.7,9.2 28.9,9.1 36.2,8.8 C43.4,8.6 54.3,9.8 59.8,11.0 C65.3,12.2 66.7,12.1 69.1,15.9 C71.5,19.7 72.2,27.5 74.3,33.6 C76.5,39.7 79.5,45.7 81.9,52.6 C84.4,59.4 87.7,67.4 89.0,74.9 C90.3,82.4 90.3,90.7 89.7,97.7 C89.2,104.7 87.6,110.3 85.7,116.7 C83.9,123.1 81.1,131.3 78.6,136.2 C76.2,141.1 74.0,144.5 71.2,146.1 C68.3,147.7 64.8,148.5 61.7,146.0 C58.5,143.5 55.3,136.8 52.3,131.0 C49.2,125.2 46.2,117.7 43.3,111.2 C40.4,104.8 37.6,99.2 35.0,92.4 C32.5,85.6 30.4,78.0 28.0,70.5 C25.5,63.0 22.4,54.5 20.2,47.4 C18.0,40.3 15.3,33.8 14.7,28.0 C14.0,22.1 12.6,15.6 16.2,12.4Z" fill="rgb(60,132,72)" opacity="1" filter="url(#f3)"/>
<ellipse cx="55" cy="80" rx="18" ry="45" transform="rotate(-20 55 80)" fill="rgb(80,155,95)" opacity="0.55" filter="url(#f4)"/>
<ellipse cx="46.5" cy="62" rx="9" ry="14" transform="rotate(5 46.5 62)" fill="rgb(30,70,45)" opacity="0.75" filter="url(#f5)"/>
<path d="M102.7,68.0 C106.5,63.3 115.3,63.0 121.5,63.7 C127.7,64.4 134.0,68.7 140.0,72.0 C146.0,75.3 151.7,78.5 157.7,83.3 C163.8,88.1 171.7,95.7 176.1,100.9 C180.5,106.1 183.1,109.2 184.0,114.5 C184.9,119.9 183.5,127.9 181.5,133.0 C179.6,138.1 177.7,142.5 172.3,145.0 C166.9,147.6 156.7,147.9 149.1,148.1 C141.4,148.3 133.2,148.0 126.4,146.2 C119.5,144.5 112.4,141.9 108.0,137.4 C103.6,132.8 101.4,126.7 99.9,119.1 C98.3,111.4 98.2,100.1 98.7,91.6 C99.1,83.1 98.9,72.6 102.7,68.0Z" fill="rgb(115,150,45)" opacity="1" filter="url(#f6)"/>
<ellipse cx="140" cy="108" rx="30" ry="32" transform="rotate(-30 140 108)" fill="rgb(165,205,55)" opacity="1" filter="url(#f7)"/>
<ellipse cx="140" cy="114" rx="9" ry="11" transform="rotate(0 140 114)" fill="rgb(150,120,45)" opacity="0.45" filter="url(#f8)"/>
<rect x="129" y="162.8" width="93" height="4.199999999999989" fill="#fff"/>
<text x="145" y="158.5" font-family="Liberation Serif" font-size="21" font-weight="bold" fill="#fff" textLength="61" lengthAdjust="spacingAndGlyphs">50 μm</text>
</g></g>
<rect x="44.0" y="255.6" width="227.9" height="171.4" fill="none" stroke="#020202" stroke-width="1.3"/>
<clipPath id="clip9"><rect x="280.4" y="255.0" width="229.2" height="172.6"/></clipPath>
<g clip-path="url(#clip9)">
<rect x="280.4" y="255.0" width="229.2" height="172.6" fill="#0d0909"/>
<g transform="translate(280.4,255.0)">
<path d="M14.1,8.4 C17.7,7.0 28.8,6.8 36.1,6.9 C43.4,7.0 52.3,5.7 57.8,9.0 C63.3,12.3 65.4,20.0 68.8,26.8 C72.2,33.6 75.7,42.6 78.2,49.8 C80.7,57.1 83.3,63.6 84.0,70.4 C84.8,77.3 83.5,83.9 82.6,90.9 C81.7,97.9 79.7,105.0 78.9,112.6 C78.1,120.2 77.5,129.6 77.6,136.2 C77.8,142.8 81.2,150.7 79.8,152.2 C78.4,153.7 74.0,149.4 69.2,145.1 C64.4,140.7 56.6,133.3 51.3,126.0 C45.9,118.8 41.5,109.8 37.1,101.6 C32.7,93.4 28.3,85.3 25.0,76.6 C21.7,67.9 19.1,59.4 17.3,49.2 C15.6,39.0 14.8,22.1 14.3,15.3 C13.7,8.5 10.5,9.8 14.1,8.4Z" fill="rgb(110,32,24)" opacity="1" filter="url(#f10)"/>
<ellipse cx="50" cy="80" rx="18" ry="45" transform="rotate(-20 50 80)" fill="rgb(135,45,28)" opacity="0.5" filter="url(#f11)"/>
<ellipse cx="39.5" cy="58" rx="9" ry="15" transform="rotate(5 39.5 58)" fill="rgb(55,20,15)" opacity="0.8" filter="url(#f12)"/>
<path d="M102.4,59.2 C106.0,56.6 112.0,55.9 117.4,56.7 C122.8,57.5 128.6,60.1 134.9,64.0 C141.2,67.9 148.9,74.9 155.2,79.9 C161.6,84.8 168.6,89.0 173.1,93.8 C177.5,98.5 180.8,102.7 182.0,108.4 C183.3,114.1 182.6,121.8 180.5,128.0 C178.4,134.2 174.6,142.3 169.5,145.9 C164.4,149.4 156.9,150.2 149.8,149.2 C142.7,148.2 133.8,143.7 126.8,140.1 C119.8,136.4 113.2,132.5 107.9,127.2 C102.6,121.9 97.6,114.7 94.9,108.3 C92.3,102.0 91.6,95.1 91.8,89.1 C92.0,83.1 94.4,77.4 96.2,72.4 C97.9,67.4 98.9,61.8 102.4,59.2Z" fill="rgb(150,145,38)" opacity="1" filter="url(#f13)"/>
<ellipse cx="140" cy="107" rx="34" ry="33" transform="rotate(-30 140 107)" fill="rgb(218,215,65)" opacity="1" filter="url(#f14)"/>
<ellipse cx="131" cy="103" rx="8" ry="13" transform="rotate(-20 131 103)" fill="rgb(100,40,20)" opacity="0.85" filter="url(#f15)"/>
</g></g>
<rect x="281.0" y="255.6" width="228.0" height="171.4" fill="none" stroke="#020202" stroke-width="1.3"/>
<clipPath id="clip16"><rect x="518.4" y="255.0" width="228.9" height="172.6"/></clipPath>
<g clip-path="url(#clip16)">
<rect x="518.4" y="255.0" width="228.9" height="172.6" fill="#0d0909"/>
<g transform="translate(518.4,255.0)">
<ellipse cx="135" cy="5" rx="30" ry="9" transform="rotate(0 135 5)" fill="rgb(24,42,34)" opacity="0.7" filter="url(#f17)"/>
<path d="M15.9,17.5 C20.3,13.3 29.8,13.1 36.0,12.9 C42.2,12.6 48.1,12.8 53.1,16.0 C58.1,19.2 62.3,25.5 66.2,31.9 C70.2,38.3 73.8,47.7 76.8,54.3 C79.9,61.0 82.4,66.3 84.5,71.9 C86.5,77.5 89.6,81.7 89.0,88.0 C88.4,94.2 83.2,102.2 80.9,109.4 C78.7,116.7 76.2,123.1 75.3,131.4 C74.5,139.7 75.1,153.0 75.9,159.2 C76.6,165.3 81.7,166.7 79.8,168.2 C77.9,169.7 69.0,171.9 64.5,168.0 C60.1,164.2 57.7,153.4 53.1,145.0 C48.6,136.6 42.1,126.3 37.1,117.6 C32.0,108.8 27.0,100.9 23.0,92.4 C18.9,83.9 14.8,75.8 12.6,66.8 C10.4,57.7 9.1,46.2 9.7,38.0 C10.3,29.7 11.6,21.7 15.9,17.5Z" fill="rgb(120,122,40)" opacity="1" filter="url(#f18)"/>
<ellipse cx="45" cy="85" rx="16" ry="45" transform="rotate(-22 45 85)" fill="rgb(125,120,40)" opacity="0.35" filter="url(#f19)"/>
<ellipse cx="37" cy="76" rx="9" ry="17" transform="rotate(10 37 76)" fill="rgb(65,25,15)" opacity="0.7" filter="url(#f20)"/>
<path d="M100.9,79.7 C104.4,73.7 111.3,73.8 117.9,73.5 C124.4,73.2 133.0,75.1 140.1,78.0 C147.2,80.9 154.7,86.5 160.6,91.2 C166.4,95.9 171.6,100.2 175.2,106.2 C178.8,112.2 181.7,120.3 182.1,127.1 C182.6,133.8 180.7,141.1 177.9,146.5 C175.0,151.9 170.7,157.9 165.0,159.5 C159.3,161.1 150.7,158.3 143.7,156.0 C136.7,153.7 129.4,149.7 123.1,145.6 C116.8,141.5 110.1,137.5 105.7,131.5 C101.3,125.5 97.7,118.3 96.9,109.7 C96.1,101.0 97.4,85.8 100.9,79.7Z" fill="rgb(160,80,28)" opacity="1" filter="url(#f21)"/>
<ellipse cx="131" cy="119" rx="32" ry="28" transform="rotate(30 131 119)" fill="rgb(232,180,48)" opacity="1" filter="url(#f22)"/>
<ellipse cx="128" cy="106" rx="12" ry="10" transform="rotate(30 128 106)" fill="rgb(100,30,20)" opacity="0.85" filter="url(#f23)"/>
</g></g>
<rect x="519.0" y="255.6" width="227.7" height="171.4" fill="none" stroke="#020202" stroke-width="1.3"/>
<clipPath id="clip24"><rect x="755.6" y="255.0" width="229.4" height="172.6"/></clipPath>
<g clip-path="url(#clip24)">
<rect x="755.6" y="255.0" width="229.4" height="172.6" fill="#0d0909"/>
<g transform="translate(755.6,255.0)">
<ellipse cx="163" cy="12" rx="38" ry="16" transform="rotate(10 163 12)" fill="rgb(24,44,38)" opacity="0.8" filter="url(#f25)"/>
<path d="M29.9,17.5 C33.7,15.8 42.2,14.9 48.1,15.8 C54.0,16.8 60.5,19.1 65.2,23.0 C69.9,26.8 72.9,32.6 76.4,38.9 C79.8,45.3 83.6,54.1 85.8,61.3 C87.9,68.5 87.6,75.0 89.1,81.9 C90.6,88.9 93.2,95.8 94.6,102.9 C96.0,110.1 96.2,117.4 97.6,124.8 C99.0,132.3 100.9,140.6 103.0,147.5 C105.1,154.5 111.2,163.0 110.1,166.5 C109.1,169.9 101.7,171.5 96.7,168.2 C91.7,165.0 86.5,154.1 80.2,147.1 C73.9,140.1 65.1,133.5 58.9,126.1 C52.8,118.7 47.9,110.9 43.4,102.9 C38.9,94.8 34.8,86.8 31.9,78.0 C29.0,69.1 27.1,58.3 26.0,49.6 C24.9,41.0 24.7,31.6 25.3,26.3 C26.0,20.9 26.1,19.2 29.9,17.5Z" fill="rgb(108,118,38)" opacity="1" filter="url(#f26)"/>
<ellipse cx="60" cy="85" rx="16" ry="45" transform="rotate(-18 60 85)" fill="rgb(125,120,45)" opacity="0.45" filter="url(#f27)"/>
<ellipse cx="56" cy="67" rx="9" ry="14" transform="rotate(0 56 67)" fill="rgb(70,45,20)" opacity="0.6" filter="url(#f28)"/>
<path d="M102.6,54.0 C105.9,51.9 116.5,57.1 122.8,59.6 C129.1,62.1 134.3,64.9 140.6,69.0 C146.8,73.1 154.5,78.9 160.6,84.2 C166.6,89.4 171.9,94.5 177.0,100.4 C182.1,106.4 187.9,113.5 191.2,119.7 C194.5,125.9 197.2,133.1 196.7,137.8 C196.2,142.5 193.5,146.9 188.2,148.1 C183.0,149.4 172.6,147.4 165.3,145.4 C157.9,143.4 150.8,139.1 144.2,136.0 C137.5,132.9 130.8,131.1 125.6,127.0 C120.4,122.8 116.2,117.4 112.9,111.1 C109.6,104.9 107.4,95.8 105.8,89.4 C104.1,82.9 103.7,78.3 103.2,72.4 C102.7,66.5 99.3,56.2 102.6,54.0Z" fill="rgb(145,98,32)" opacity="1" filter="url(#f29)"/>
<ellipse cx="143" cy="114" rx="32" ry="20" transform="rotate(30 143 114)" fill="rgb(225,180,45)" opacity="1" filter="url(#f30)"/>
<ellipse cx="137" cy="95" rx="14" ry="9" transform="rotate(15 137 95)" fill="rgb(100,30,20)" opacity="0.85" filter="url(#f31)"/>
<ellipse cx="109" cy="165" rx="4" ry="6" transform="rotate(0 109 165)" fill="rgb(110,110,45)" opacity="1" filter="url(#f32)"/>
</g></g>
<rect x="756.2" y="255.6" width="228.2" height="171.4" fill="none" stroke="#020202" stroke-width="1.3"/>
<rect x="12.5" y="863.8" width="19.4" height="148.20000000000005" fill="url(#cb33)"/>
<text x="5.0" y="857.5" font-family="Liberation Sans" font-size="23" font-weight="bold" text-anchor="start" fill="#1e1a1b" >1.5</text>
<text x="6.2" y="1035.5" font-family="Liberation Sans" font-size="23" font-weight="bold" text-anchor="start" fill="#1e1a1b" >1.0</text>
<text transform="translate(155.8,845.9) scale(1.05,1)" font-family="Liberation Sans" font-size="22.5" font-weight="bold" text-anchor="middle" fill="#1e1a1b">0 h</text>
<text transform="translate(393.2,845.9) scale(1.05,1)" font-family="Liberation Sans" font-size="22.5" font-weight="bold" text-anchor="middle" fill="#1e1a1b">0.5 h</text>
<text transform="translate(630.8,845.9) scale(1.05,1)" font-family="Liberation Sans" font-size="22.5" font-weight="bold" text-anchor="middle" fill="#1e1a1b">1.0 h</text>
<text transform="translate(868.4,845.9) scale(1.05,1)" font-family="Liberation Sans" font-size="22.5" font-weight="bold" text-anchor="middle" fill="#1e1a1b">2.0 h</text>
<clipPath id="clip34"><rect x="39.2" y="853.0" width="233.2" height="174.8"/></clipPath>
<g clip-path="url(#clip34)">
<rect x="39.2" y="853.0" width="233.2" height="174.8" fill="#0d0909"/>
<g transform="translate(39.2,853.0)">
<ellipse cx="61.5" cy="37.8" rx="14.399999999999999" ry="8.5" transform="rotate(10 61.5 37.8)" fill="rgb(70,160,170)" opacity="0.9" filter="url(#f35)"/>
<ellipse cx="61.5" cy="37.8" rx="14.2" ry="8.3" transform="rotate(10 61.5 37.8)" fill="rgb(175,210,60)" opacity="1" filter="url(#f36)"/>
<ellipse cx="165.4" cy="36.6" rx="9.2" ry="17.2" transform="rotate(-5 165.4 36.6)" fill="rgb(90,180,220)" opacity="0.9" filter="url(#f37)"/>
<ellipse cx="165.4" cy="36.6" rx="9" ry="17" transform="rotate(-5 165.4 36.6)" fill="rgb(70,160,215)" opacity="1" filter="url(#f38)"/>
<ellipse cx="106.4" cy="137" rx="19.2" ry="13.899999999999999" transform="rotate(-15 106.4 137)" fill="rgb(60,120,200)" opacity="0.9" filter="url(#f39)"/>
<ellipse cx="106.4" cy="137" rx="19" ry="13.7" transform="rotate(-15 106.4 137)" fill="rgb(100,180,130)" opacity="1" filter="url(#f40)"/>
<rect x="154.8" y="163" width="69.69999999999999" height="4.300000000000011" fill="#fff"/>
<text x="159.5" y="160.5" font-family="Liberation Serif" font-size="21" font-weight="bold" fill="#fff" textLength="61" lengthAdjust="spacingAndGlyphs">50 μm</text>
</g></g>
<rect x="39.8" y="853.6" width="232.0" height="173.6" fill="none" stroke="#020202" stroke-width="1.3"/>
<clipPath id="clip41"><rect x="276.8" y="853.0" width="232.9" height="174.8"/></clipPath>
<g clip-path="url(#clip41)">
<rect x="276.8" y="853.0" width="232.9" height="174.8" fill="#0d0909"/>
<g transform="translate(276.8,853.0)">
<ellipse cx="67" cy="35.8" rx="14.2" ry="8.0" transform="rotate(12 67 35.8)" fill="rgb(120,150,60)" opacity="0.9" filter="url(#f42)"/>
<ellipse cx="67" cy="35.8" rx="14" ry="7.8" transform="rotate(12 67 35.8)" fill="rgb(215,50,25)" opacity="1" filter="url(#f43)"/>
<ellipse cx="162.9" cy="37.7" rx="11.5" ry="18.3" transform="rotate(-5 162.9 37.7)" fill="rgb(110,170,80)" opacity="0.9" filter="url(#f44)"/>
<ellipse cx="162.9" cy="37.7" rx="11.3" ry="18.1" transform="rotate(-5 162.9 37.7)" fill="rgb(215,150,40)" opacity="1" filter="url(#f45)"/>
<ellipse cx="109.4" cy="134.6" rx="18.599999999999998" ry="14.799999999999999" transform="rotate(-25 109.4 134.6)" fill="rgb(110,120,60)" opacity="0.9" filter="url(#f46)"/>
<ellipse cx="109.4" cy="134.6" rx="18.4" ry="14.6" transform="rotate(-25 109.4 134.6)" fill="rgb(210,40,20)" opacity="1" filter="url(#f47)"/>
</g></g>
<rect x="277.4" y="853.6" width="231.7" height="173.6" fill="none" stroke="#020202" stroke-width="1.3"/>
<clipPath id="clip48"><rect x="514.3" y="853.0" width="232.9" height="174.8"/></clipPath>
<g clip-path="url(#clip48)">
<rect x="514.3" y="853.0" width="232.9" height="174.8" fill="#0d0909"/>
<g transform="translate(514.3,853.0)">
<ellipse cx="69.7" cy="44.2" rx="13.2" ry="8.899999999999999" transform="rotate(15 69.7 44.2)" fill="rgb(150,180,50)" opacity="0.9" filter="url(#f49)"/>
<ellipse cx="69.7" cy="44.2" rx="13" ry="8.7" transform="rotate(15 69.7 44.2)" fill="rgb(220,205,50)" opacity="1" filter="url(#f50)"/>
<ellipse cx="171.8" cy="44.9" rx="10.1" ry="17.5" transform="rotate(-8 171.8 44.9)" fill="rgb(70,150,220)" opacity="0.9" filter="url(#f51)"/>
<ellipse cx="171.8" cy="44.9" rx="9.9" ry="17.3" transform="rotate(-8 171.8 44.9)" fill="rgb(130,200,170)" opacity="1" filter="url(#f52)"/>
<ellipse cx="112.7" cy="144.2" rx="17.9" ry="14.899999999999999" transform="rotate(-30 112.7 144.2)" fill="rgb(140,120,50)" opacity="0.9" filter="url(#f53)"/>
<ellipse cx="112.7" cy="144.2" rx="17.7" ry="14.7" transform="rotate(-30 112.7 144.2)" fill="rgb(225,170,45)" opacity="1" filter="url(#f54)"/>
</g></g>
<rect x="514.9" y="853.6" width="231.7" height="173.6" fill="none" stroke="#020202" stroke-width="1.3"/>
<clipPath id="clip55"><rect x="751.8" y="853.0" width="233.2" height="174.8"/></clipPath>
<g clip-path="url(#clip55)">
<rect x="751.8" y="853.0" width="233.2" height="174.8" fill="#0d0909"/>
<g transform="translate(751.8,853.0)">
<ellipse cx="222" cy="80" rx="12" ry="14" transform="rotate(0 222 80)" fill="rgb(16,26,26)" opacity="1" filter="url(#f56)"/>
<ellipse cx="62.4" cy="43.8" rx="13.6" ry="8.899999999999999" transform="rotate(5 62.4 43.8)" fill="rgb(150,190,60)" opacity="0.9" filter="url(#f57)"/>
<ellipse cx="62.4" cy="43.8" rx="13.4" ry="8.7" transform="rotate(5 62.4 43.8)" fill="rgb(195,210,50)" opacity="1" filter="url(#f58)"/>
<ellipse cx="166.4" cy="42.4" rx="8.399999999999999" ry="16.2" transform="rotate(-5 166.4 42.4)" fill="rgb(70,140,220)" opacity="0.9" filter="url(#f59)"/>
<ellipse cx="166.4" cy="42.4" rx="8.2" ry="16" transform="rotate(-5 166.4 42.4)" fill="rgb(140,200,200)" opacity="1" filter="url(#f60)"/>
<ellipse cx="107.1" cy="141.2" rx="19.2" ry="14.7" transform="rotate(-55 107.1 141.2)" fill="rgb(90,170,120)" opacity="0.9" filter="url(#f61)"/>
<ellipse cx="107.1" cy="141.2" rx="19" ry="14.5" transform="rotate(-55 107.1 141.2)" fill="rgb(145,200,65)" opacity="1" filter="url(#f62)"/>
</g></g>
<rect x="752.4" y="853.6" width="232.0" height="173.6" fill="none" stroke="#020202" stroke-width="1.3"/>
<rect x="12.1" y="1459" width="19.4" height="148.5" fill="url(#cb63)"/>
<text x="6.0" y="1453.4" font-family="Liberation Sans" font-size="23" font-weight="bold" text-anchor="start" fill="#1e1a1b" >2.0</text>
<text x="6.2" y="1631.5" font-family="Liberation Sans" font-size="23" font-weight="bold" text-anchor="start" fill="#1e1a1b" >1.0</text>
<text transform="translate(161.0,1443.3) scale(1.05,1)" font-family="Liberation Sans" font-size="22.5" font-weight="bold" text-anchor="middle" fill="#1e1a1b">0 h</text>
<text transform="translate(398.6,1443.3) scale(1.05,1)" font-family="Liberation Sans" font-size="22.5" font-weight="bold" text-anchor="middle" fill="#1e1a1b">0.5 h</text>
<text transform="translate(635.4,1443.3) scale(1.05,1)" font-family="Liberation Sans" font-size="22.5" font-weight="bold" text-anchor="middle" fill="#1e1a1b">1.0 h</text>
<text transform="translate(872.6,1443.3) scale(1.05,1)" font-family="Liberation Sans" font-size="22.5" font-weight="bold" text-anchor="middle" fill="#1e1a1b">2.0 h</text>
<clipPath id="clip64"><rect x="44.8" y="1451.5" width="228.4" height="170.9"/></clipPath>
<g clip-path="url(#clip64)">
<rect x="44.8" y="1451.5" width="228.4" height="170.9" fill="#0d0909"/>
<g transform="translate(44.8,1451.5)">
<ellipse cx="52" cy="72" rx="22" ry="20" transform="rotate(0 52 72)" fill="rgb(68,145,112)" opacity="1" filter="url(#f65)"/>
<ellipse cx="195" cy="3" rx="30" ry="8" transform="rotate(0 195 3)" fill="rgb(25,50,45)" opacity="1" filter="url(#f66)"/>
<path d="M23.0,32.0 C26.5,26.0 41.5,17.8 53.0,14.0 C64.5,10.2 79.3,9.0 92.0,9.0 C104.7,9.0 117.5,10.5 129.0,14.0 C140.5,17.5 153.3,23.5 161.0,30.0 C168.7,36.5 173.8,46.8 175.0,53.0 C176.2,59.2 174.2,64.5 168.0,67.0 C161.8,69.5 149.3,68.5 138.0,68.0 C126.7,67.5 111.3,65.0 100.0,64.0 C88.7,63.0 78.7,62.3 70.0,62.0 C61.3,61.7 54.3,64.0 48.0,62.0 C41.7,60.0 36.2,55.0 32.0,50.0 C27.8,45.0 19.5,38.0 23.0,32.0Z" fill="rgb(78,160,118)" opacity="1" filter="url(#f67)"/>
<ellipse cx="100" cy="36" rx="45" ry="16" transform="rotate(10 100 36)" fill="rgb(90,175,115)" opacity="0.55" filter="url(#f68)"/>
<ellipse cx="90" cy="52" rx="20" ry="10" transform="rotate(15 90 52)" fill="rgb(35,80,60)" opacity="0.85" filter="url(#f69)"/>
<path d="M48.0,80.0 C52.0,75.7 65.5,73.7 76.0,74.0 C86.5,74.3 99.8,78.3 111.0,82.0 C122.2,85.7 131.5,91.0 143.0,96.0 C154.5,101.0 169.3,107.3 180.0,112.0 C190.7,116.7 201.7,120.3 207.0,124.0 C212.3,127.7 213.5,130.5 212.0,134.0 C210.5,137.5 205.0,142.0 198.0,145.0 C191.0,148.0 179.7,150.2 170.0,152.0 C160.3,153.8 149.7,156.0 140.0,156.0 C130.3,156.0 120.7,154.7 112.0,152.0 C103.3,149.3 95.7,145.0 88.0,140.0 C80.3,135.0 72.0,128.7 66.0,122.0 C60.0,115.3 55.0,107.0 52.0,100.0 C49.0,93.0 44.0,84.3 48.0,80.0Z" fill="rgb(72,152,125)" opacity="1" filter="url(#f70)"/>
<ellipse cx="122" cy="129" rx="18" ry="9" transform="rotate(15 122 129)" fill="rgb(35,80,65)" opacity="0.8" filter="url(#f71)"/>
<rect x="101.3" y="161.2" width="118.7" height="4.200000000000017" fill="#fff"/>
<text x="132.4" y="156.6" font-family="Liberation Serif" font-size="21" font-weight="bold" fill="#fff" textLength="61" lengthAdjust="spacingAndGlyphs">50 μm</text>
</g></g>
<rect x="45.4" y="1452.1" width="227.2" height="169.7" fill="none" stroke="#020202" stroke-width="1.3"/>
<clipPath id="clip72"><rect x="282.3" y="1451.5" width="228.5" height="170.9"/></clipPath>
<g clip-path="url(#clip72)">
<rect x="282.3" y="1451.5" width="228.5" height="170.9" fill="#0d0909"/>
<g transform="translate(282.3,1451.5)">
<ellipse cx="50" cy="70" rx="22" ry="20" transform="rotate(0 50 70)" fill="rgb(68,140,115)" opacity="1" filter="url(#f73)"/>
<ellipse cx="190" cy="3" rx="30" ry="8" transform="rotate(0 190 3)" fill="rgb(25,45,40)" opacity="1" filter="url(#f74)"/>
<path d="M22.0,35.0 C25.5,30.5 36.2,21.3 46.0,17.0 C55.8,12.7 69.3,9.8 81.0,9.0 C92.7,8.2 105.7,10.0 116.0,12.0 C126.3,14.0 134.5,16.8 143.0,21.0 C151.5,25.2 161.5,31.7 167.0,37.0 C172.5,42.3 176.8,48.3 176.0,53.0 C175.2,57.7 169.7,62.7 162.0,65.0 C154.3,67.3 140.8,67.5 130.0,67.0 C119.2,66.5 107.2,63.5 97.0,62.0 C86.8,60.5 78.2,59.8 69.0,58.0 C59.8,56.2 49.3,53.3 42.0,51.0 C34.7,48.7 28.3,46.7 25.0,44.0 C21.7,41.3 18.5,39.5 22.0,35.0Z" fill="rgb(85,165,100)" opacity="1" filter="url(#f75)"/>
<ellipse cx="108" cy="40" rx="40" ry="14" transform="rotate(12 108 40)" fill="rgb(100,180,85)" opacity="0.6" filter="url(#f76)"/>
<ellipse cx="88" cy="47" rx="18" ry="10" transform="rotate(20 88 47)" fill="rgb(45,90,55)" opacity="0.85" filter="url(#f77)"/>
<path d="M46.0,69.0 C50.2,64.0 65.2,65.8 76.0,67.0 C86.8,68.2 99.8,71.8 111.0,76.0 C122.2,80.2 131.5,86.5 143.0,92.0 C154.5,97.5 169.2,103.8 180.0,109.0 C190.8,114.2 202.2,119.5 208.0,123.0 C213.8,126.5 215.7,127.3 215.0,130.0 C214.3,132.7 211.0,136.0 204.0,139.0 C197.0,142.0 183.2,145.7 173.0,148.0 C162.8,150.3 152.5,152.7 143.0,153.0 C133.5,153.3 125.2,152.3 116.0,150.0 C106.8,147.7 96.5,144.0 88.0,139.0 C79.5,134.0 71.2,127.0 65.0,120.0 C58.8,113.0 54.2,105.5 51.0,97.0 C47.8,88.5 41.8,74.0 46.0,69.0Z" fill="rgb(68,135,140)" opacity="1" filter="url(#f78)"/>
<ellipse cx="125" cy="118" rx="40" ry="14" transform="rotate(25 125 118)" fill="rgb(70,135,165)" opacity="0.4" filter="url(#f79)"/>
<ellipse cx="130" cy="160" rx="15" ry="8" transform="rotate(0 130 160)" fill="rgb(40,60,60)" opacity="1" filter="url(#f80)"/>
</g></g>
<rect x="282.9" y="1452.1" width="227.3" height="169.7" fill="none" stroke="#020202" stroke-width="1.3"/>
<clipPath id="clip81"><rect x="519.2" y="1451.5" width="228.3" height="170.9"/></clipPath>
<g clip-path="url(#clip81)">
<rect x="519.2" y="1451.5" width="228.3" height="170.9" fill="#0d0909"/>
<g transform="translate(519.2,1451.5)">
<ellipse cx="45" cy="68" rx="22" ry="20" transform="rotate(0 45 68)" fill="rgb(85,160,105)" opacity="1" filter="url(#f82)"/>
<path d="M12.0,32.0 C12.8,26.5 25.5,19.8 35.0,16.0 C44.5,12.2 57.5,9.7 69.0,9.0 C80.5,8.3 93.2,10.0 104.0,12.0 C114.8,14.0 125.2,17.2 134.0,21.0 C142.8,24.8 151.2,29.7 157.0,35.0 C162.8,40.3 169.0,48.5 169.0,53.0 C169.0,57.5 164.0,60.0 157.0,62.0 C150.0,64.0 137.7,65.0 127.0,65.0 C116.3,65.0 104.5,63.2 93.0,62.0 C81.5,60.8 68.5,60.2 58.0,58.0 C47.5,55.8 37.7,53.3 30.0,49.0 C22.3,44.7 11.2,37.5 12.0,32.0Z" fill="rgb(110,185,85)" opacity="1" filter="url(#f83)"/>
<ellipse cx="95" cy="38" rx="40" ry="14" transform="rotate(10 95 38)" fill="rgb(125,195,80)" opacity="0.6" filter="url(#f84)"/>
<ellipse cx="87" cy="49" rx="20" ry="10" transform="rotate(15 87 49)" fill="rgb(55,100,50)" opacity="0.85" filter="url(#f85)"/>
<path d="M42.0,69.0 C48.2,67.0 68.7,70.8 81.0,74.0 C93.3,77.2 104.5,83.0 116.0,88.0 C127.5,93.0 138.5,98.7 150.0,104.0 C161.5,109.3 176.0,115.7 185.0,120.0 C194.0,124.3 203.2,126.8 204.0,130.0 C204.8,133.2 197.0,136.8 190.0,139.0 C183.0,141.2 170.5,141.5 162.0,143.0 C153.5,144.5 146.0,145.2 139.0,148.0 C132.0,150.8 127.0,157.7 120.0,160.0 C113.0,162.3 102.3,163.7 97.0,162.0 C91.7,160.3 92.7,155.3 88.0,150.0 C83.3,144.7 74.8,137.7 69.0,130.0 C63.2,122.3 57.2,111.3 53.0,104.0 C48.8,96.7 45.8,91.8 44.0,86.0 C42.2,80.2 35.8,71.0 42.0,69.0Z" fill="rgb(78,158,130)" opacity="1" filter="url(#f86)"/>
<ellipse cx="113" cy="117" rx="17" ry="9" transform="rotate(15 113 117)" fill="rgb(50,105,75)" opacity="0.6" filter="url(#f87)"/>
<ellipse cx="102" cy="160" rx="13" ry="10" transform="rotate(0 102 160)" fill="rgb(45,60,150)" opacity="1" filter="url(#f88)"/>
</g></g>
<rect x="519.8" y="1452.1" width="227.1" height="169.7" fill="none" stroke="#020202" stroke-width="1.3"/>
<clipPath id="clip89"><rect x="756.3" y="1451.5" width="228.7" height="170.9"/></clipPath>
<g clip-path="url(#clip89)">
<rect x="756.3" y="1451.5" width="228.7" height="170.9" fill="#0d0909"/>
<g transform="translate(756.3,1451.5)">
<ellipse cx="48" cy="72" rx="22" ry="20" transform="rotate(0 48 72)" fill="rgb(68,145,115)" opacity="1" filter="url(#f90)"/>
<ellipse cx="160" cy="0" rx="25" ry="6" transform="rotate(0 160 0)" fill="rgb(80,90,40)" opacity="1" filter="url(#f91)"/>
<path d="M16.0,35.0 C16.0,30.0 26.2,22.8 35.0,19.0 C43.8,15.2 57.5,12.8 69.0,12.0 C80.5,11.2 92.3,12.2 104.0,14.0 C115.7,15.8 129.3,19.2 139.0,23.0 C148.7,26.8 155.8,32.0 162.0,37.0 C168.2,42.0 176.0,48.8 176.0,53.0 C176.0,57.2 169.7,60.0 162.0,62.0 C154.3,64.0 140.8,65.0 130.0,65.0 C119.2,65.0 107.8,63.2 97.0,62.0 C86.2,60.8 75.3,60.2 65.0,58.0 C54.7,55.8 43.2,52.8 35.0,49.0 C26.8,45.2 16.0,40.0 16.0,35.0Z" fill="rgb(76,158,122)" opacity="1" filter="url(#f92)"/>
<ellipse cx="100" cy="38" rx="40" ry="14" transform="rotate(10 100 38)" fill="rgb(85,170,120)" opacity="0.55" filter="url(#f93)"/>
<ellipse cx="80" cy="52" rx="22" ry="9" transform="rotate(10 80 52)" fill="rgb(40,85,65)" opacity="0.85" filter="url(#f94)"/>
<path d="M49.0,76.0 C53.2,72.2 69.8,74.3 81.0,76.0 C92.2,77.7 104.5,82.2 116.0,86.0 C127.5,89.8 138.5,94.0 150.0,99.0 C161.5,104.0 176.0,110.8 185.0,116.0 C194.0,121.2 202.0,125.5 204.0,130.0 C206.0,134.5 202.2,139.7 197.0,143.0 C191.8,146.3 182.0,148.3 173.0,150.0 C164.0,151.7 152.5,153.3 143.0,153.0 C133.5,152.7 124.3,150.3 116.0,148.0 C107.7,145.7 100.8,143.7 93.0,139.0 C85.2,134.3 75.2,126.7 69.0,120.0 C62.8,113.3 59.3,106.3 56.0,99.0 C52.7,91.7 44.8,79.8 49.0,76.0Z" fill="rgb(72,152,128)" opacity="1" filter="url(#f95)"/>
<ellipse cx="119" cy="118" rx="19" ry="9" transform="rotate(15 119 118)" fill="rgb(40,85,70)" opacity="0.75" filter="url(#f96)"/>
</g></g>
<rect x="756.9" y="1452.1" width="227.5" height="169.7" fill="none" stroke="#020202" stroke-width="1.3"/>
<line x1="110.3" y1="470.5" x2="110.3" y2="726.2" stroke="#1e1a1b" stroke-width="2.4" />
<line x1="103.8" y1="724.9" x2="111.3" y2="724.9" stroke="#1e1a1b" stroke-width="2.4" />
<text transform="translate(101.6,734.3) scale(0.98,1)" font-family="Liberation Sans" font-size="27.3" font-weight="bold" text-anchor="end" fill="#1e1a1b">1.3</text>
<line x1="103.8" y1="640.2" x2="111.3" y2="640.2" stroke="#1e1a1b" stroke-width="2.4" />
<text transform="translate(101.6,649.6) scale(0.98,1)" font-family="Liberation Sans" font-size="27.3" font-weight="bold" text-anchor="end" fill="#1e1a1b">1.5</text>
<line x1="103.8" y1="555.5" x2="111.3" y2="555.5" stroke="#1e1a1b" stroke-width="2.4" />
<text transform="translate(101.6,564.9) scale(0.98,1)" font-family="Liberation Sans" font-size="27.3" font-weight="bold" text-anchor="end" fill="#1e1a1b">1.7</text>
<line x1="103.8" y1="470.8" x2="111.3" y2="470.8" stroke="#1e1a1b" stroke-width="2.4" />
<text transform="translate(101.6,480.2) scale(0.98,1)" font-family="Liberation Sans" font-size="27.3" font-weight="bold" text-anchor="end" fill="#1e1a1b">1.9</text>
<line x1="106.3" y1="682.9" x2="111.3" y2="682.9" stroke="#1e1a1b" stroke-width="2.2" />
<line x1="106.3" y1="598.2" x2="111.3" y2="598.2" stroke="#1e1a1b" stroke-width="2.2" />
<line x1="106.3" y1="513.5" x2="111.3" y2="513.5" stroke="#1e1a1b" stroke-width="2.2" />
<line x1="109.1" y1="725.0" x2="471.8" y2="725.0" stroke="#1e1a1b" stroke-width="2.4" />
<line x1="172.0" y1="724.0" x2="172.0" y2="731.5" stroke="#1e1a1b" stroke-width="2.4" />
<text transform="translate(172.0,759.8) scale(0.98,1)" font-family="Liberation Sans" font-size="27.3" font-weight="bold" text-anchor="middle" fill="#1e1a1b">0.0</text>
<line x1="234.4" y1="724.0" x2="234.4" y2="731.5" stroke="#1e1a1b" stroke-width="2.4" />
<text transform="translate(234.4,759.8) scale(0.98,1)" font-family="Liberation Sans" font-size="27.3" font-weight="bold" text-anchor="middle" fill="#1e1a1b">0.5</text>
<line x1="296.7" y1="724.0" x2="296.7" y2="731.5" stroke="#1e1a1b" stroke-width="2.4" />
<text transform="translate(296.7,759.8) scale(0.98,1)" font-family="Liberation Sans" font-size="27.3" font-weight="bold" text-anchor="middle" fill="#1e1a1b">1.0</text>
<line x1="358.7" y1="724.0" x2="358.7" y2="731.5" stroke="#1e1a1b" stroke-width="2.4" />
<text transform="translate(358.7,759.8) scale(0.98,1)" font-family="Liberation Sans" font-size="27.3" font-weight="bold" text-anchor="middle" fill="#1e1a1b">1.5</text>
<line x1="421.0" y1="724.0" x2="421.0" y2="731.5" stroke="#1e1a1b" stroke-width="2.4" />
<text transform="translate(421.0,759.8) scale(0.98,1)" font-family="Liberation Sans" font-size="27.3" font-weight="bold" text-anchor="middle" fill="#1e1a1b">2.0</text>
<text transform="translate(49.0,592.5) rotate(-90)" font-family="Liberation Sans" font-size="26.7" font-weight="bold" text-anchor="middle" fill="#1e1a1b">FRET/CFP</text>
<text transform="translate(290.3,793.3) scale(0.97,1)" font-family="Liberation Sans" font-size="26.7" font-weight="bold" text-anchor="middle" fill="#1e1a1b">Time (h)</text>
<polyline points="172.0,667.9 234.4,562.8 297.0,542.0 421.0,540.4" fill="none" stroke="#1e1a1b" stroke-width="3.1" stroke-linejoin="round"/>
<line x1="172.0" y1="654.3" x2="172.0" y2="681.5" stroke="#1e1a1b" stroke-width="2.4" />
<line x1="167.4" y1="654.3" x2="176.6" y2="654.3" stroke="#1e1a1b" stroke-width="2.4" />
<line x1="167.4" y1="681.5" x2="176.6" y2="681.5" stroke="#1e1a1b" stroke-width="2.4" />
<line x1="234.4" y1="548.0" x2="234.4" y2="577.8" stroke="#1e1a1b" stroke-width="2.4" />
<line x1="229.8" y1="548.0" x2="239.0" y2="548.0" stroke="#1e1a1b" stroke-width="2.4" />
<line x1="229.8" y1="577.8" x2="239.0" y2="577.8" stroke="#1e1a1b" stroke-width="2.4" />
<line x1="297.0" y1="527.2" x2="297.0" y2="556.9" stroke="#1e1a1b" stroke-width="2.4" />
<line x1="292.4" y1="527.2" x2="301.6" y2="527.2" stroke="#1e1a1b" stroke-width="2.4" />
<line x1="292.4" y1="556.9" x2="301.6" y2="556.9" stroke="#1e1a1b" stroke-width="2.4" />
<line x1="421.0" y1="526.3" x2="421.0" y2="555.4" stroke="#1e1a1b" stroke-width="2.4" />
<line x1="416.4" y1="526.3" x2="425.6" y2="526.3" stroke="#1e1a1b" stroke-width="2.4" />
<line x1="416.4" y1="555.4" x2="425.6" y2="555.4" stroke="#1e1a1b" stroke-width="2.4" />
<circle cx="172.0" cy="667.9" r="5" fill="#1e1a1b"/>
<circle cx="234.4" cy="562.8" r="5" fill="#1e1a1b"/>
<circle cx="297.0" cy="542.0" r="5" fill="#1e1a1b"/>
<circle cx="421.0" cy="540.4" r="5" fill="#1e1a1b"/>
<line x1="111.5" y1="1072.7" x2="111.5" y2="1320.7" stroke="#1e1a1b" stroke-width="2.4" />
<line x1="105.0" y1="1319.5" x2="112.5" y2="1319.5" stroke="#1e1a1b" stroke-width="2.4" />
<text transform="translate(102.6,1328.9) scale(0.98,1)" font-family="Liberation Sans" font-size="27.3" font-weight="bold" text-anchor="end" fill="#1e1a1b">1.0</text>
<line x1="105.0" y1="1257.5" x2="112.5" y2="1257.5" stroke="#1e1a1b" stroke-width="2.4" />
<text transform="translate(102.6,1266.9) scale(0.98,1)" font-family="Liberation Sans" font-size="27.3" font-weight="bold" text-anchor="end" fill="#1e1a1b">1.1</text>
<line x1="105.0" y1="1195.8" x2="112.5" y2="1195.8" stroke="#1e1a1b" stroke-width="2.4" />
<text transform="translate(102.6,1205.2) scale(0.98,1)" font-family="Liberation Sans" font-size="27.3" font-weight="bold" text-anchor="end" fill="#1e1a1b">1.2</text>
<line x1="105.0" y1="1134.2" x2="112.5" y2="1134.2" stroke="#1e1a1b" stroke-width="2.4" />
<text transform="translate(102.6,1143.6) scale(0.98,1)" font-family="Liberation Sans" font-size="27.3" font-weight="bold" text-anchor="end" fill="#1e1a1b">1.3</text>
<line x1="105.0" y1="1072.7" x2="112.5" y2="1072.7" stroke="#1e1a1b" stroke-width="2.4" />
<text transform="translate(102.6,1082.1) scale(0.98,1)" font-family="Liberation Sans" font-size="27.3" font-weight="bold" text-anchor="end" fill="#1e1a1b">1.4</text>
<line x1="110.3" y1="1319.0" x2="480.8" y2="1319.0" stroke="#1e1a1b" stroke-width="2.4" />
<line x1="175.5" y1="1318.0" x2="175.5" y2="1325.5" stroke="#1e1a1b" stroke-width="2.4" />
<text transform="translate(175.5,1354.2) scale(0.98,1)" font-family="Liberation Sans" font-size="27.3" font-weight="bold" text-anchor="middle" fill="#1e1a1b">0.0</text>
<line x1="238.5" y1="1318.0" x2="238.5" y2="1325.5" stroke="#1e1a1b" stroke-width="2.4" />
<text transform="translate(238.5,1354.2) scale(0.98,1)" font-family="Liberation Sans" font-size="27.3" font-weight="bold" text-anchor="middle" fill="#1e1a1b">0.5</text>
<line x1="301.6" y1="1318.0" x2="301.6" y2="1325.5" stroke="#1e1a1b" stroke-width="2.4" />
<text transform="translate(301.6,1354.2) scale(0.98,1)" font-family="Liberation Sans" font-size="27.3" font-weight="bold" text-anchor="middle" fill="#1e1a1b">1.0</text>
<line x1="364.6" y1="1318.0" x2="364.6" y2="1325.5" stroke="#1e1a1b" stroke-width="2.4" />
<text transform="translate(364.6,1354.2) scale(0.98,1)" font-family="Liberation Sans" font-size="27.3" font-weight="bold" text-anchor="middle" fill="#1e1a1b">1.5</text>
<line x1="428.6" y1="1318.0" x2="428.6" y2="1325.5" stroke="#1e1a1b" stroke-width="2.4" />
<text transform="translate(428.6,1354.2) scale(0.98,1)" font-family="Liberation Sans" font-size="27.3" font-weight="bold" text-anchor="middle" fill="#1e1a1b">2.0</text>
<text transform="translate(49.4,1189.9) rotate(-90)" font-family="Liberation Sans" font-size="27.3" font-weight="bold" text-anchor="middle" fill="#1e1a1b">FRET/CFP</text>
<text transform="translate(295.5,1388.3) scale(0.99,1)" font-family="Liberation Sans" font-size="26.7" font-weight="bold" text-anchor="middle" fill="#1e1a1b">Time (h)</text>
<text x="162.4" y="1082.4" font-family="Liberation Serif" font-size="27" font-weight="normal" text-anchor="start" fill="#231f20" textLength="181" lengthAdjust="spacingAndGlyphs">Nuc-ERK FRET</text>
<polyline points="175.5,1266.1 238.5,1146.4 301.6,1180.3 428.6,1203.6" fill="none" stroke="#1e1a1b" stroke-width="3.1" stroke-linejoin="round"/>
<line x1="175.5" y1="1250.6" x2="175.5" y2="1281.2" stroke="#1e1a1b" stroke-width="2.4" />
<line x1="170.9" y1="1250.6" x2="180.1" y2="1250.6" stroke="#1e1a1b" stroke-width="2.4" />
<line x1="170.9" y1="1281.2" x2="180.1" y2="1281.2" stroke="#1e1a1b" stroke-width="2.4" />
<line x1="238.5" y1="1126.5" x2="238.5" y2="1165.8" stroke="#1e1a1b" stroke-width="2.4" />
<line x1="233.9" y1="1126.5" x2="243.1" y2="1126.5" stroke="#1e1a1b" stroke-width="2.4" />
<line x1="233.9" y1="1165.8" x2="243.1" y2="1165.8" stroke="#1e1a1b" stroke-width="2.4" />
<line x1="301.6" y1="1160.9" x2="301.6" y2="1198.7" stroke="#1e1a1b" stroke-width="2.4" />
<line x1="297.0" y1="1160.9" x2="306.2" y2="1160.9" stroke="#1e1a1b" stroke-width="2.4" />
<line x1="297.0" y1="1198.7" x2="306.2" y2="1198.7" stroke="#1e1a1b" stroke-width="2.4" />
<line x1="428.6" y1="1187.6" x2="428.6" y2="1220.5" stroke="#1e1a1b" stroke-width="2.4" />
<line x1="424.0" y1="1187.6" x2="433.2" y2="1187.6" stroke="#1e1a1b" stroke-width="2.4" />
<line x1="424.0" y1="1220.5" x2="433.2" y2="1220.5" stroke="#1e1a1b" stroke-width="2.4" />
<circle cx="175.5" cy="1266.1" r="5" fill="#1e1a1b"/>
<circle cx="238.5" cy="1146.4" r="5" fill="#1e1a1b"/>
<circle cx="301.6" cy="1180.3" r="5" fill="#1e1a1b"/>
<circle cx="428.6" cy="1203.6" r="5" fill="#1e1a1b"/>
<line x1="110.6" y1="1672.2" x2="110.6" y2="1914.8" stroke="#1e1a1b" stroke-width="2.4" />
<line x1="104.1" y1="1913.6" x2="111.6" y2="1913.6" stroke="#1e1a1b" stroke-width="2.4" />
<text transform="translate(101.2,1923.0) scale(0.98,1)" font-family="Liberation Sans" font-size="27.3" font-weight="bold" text-anchor="end" fill="#1e1a1b">1.3</text>
<line x1="104.1" y1="1833.6" x2="111.6" y2="1833.6" stroke="#1e1a1b" stroke-width="2.4" />
<text transform="translate(101.2,1843.0) scale(0.98,1)" font-family="Liberation Sans" font-size="27.3" font-weight="bold" text-anchor="end" fill="#1e1a1b">1.4</text>
<line x1="104.1" y1="1752.7" x2="111.6" y2="1752.7" stroke="#1e1a1b" stroke-width="2.4" />
<text transform="translate(101.2,1762.1) scale(0.98,1)" font-family="Liberation Sans" font-size="27.3" font-weight="bold" text-anchor="end" fill="#1e1a1b">1.5</text>
<line x1="104.1" y1="1672.7" x2="111.6" y2="1672.7" stroke="#1e1a1b" stroke-width="2.4" />
<text transform="translate(101.2,1682.1) scale(0.98,1)" font-family="Liberation Sans" font-size="27.3" font-weight="bold" text-anchor="end" fill="#1e1a1b">1.6</text>
<line x1="109.4" y1="1913.6" x2="472.2" y2="1913.6" stroke="#1e1a1b" stroke-width="2.4" />
<line x1="172.1" y1="1912.6" x2="172.1" y2="1920.1" stroke="#1e1a1b" stroke-width="2.4" />
<text transform="translate(172.1,1948.2) scale(0.98,1)" font-family="Liberation Sans" font-size="27.3" font-weight="bold" text-anchor="middle" fill="#1e1a1b">0.0</text>
<line x1="234.2" y1="1912.6" x2="234.2" y2="1920.1" stroke="#1e1a1b" stroke-width="2.4" />
<text transform="translate(234.2,1948.2) scale(0.98,1)" font-family="Liberation Sans" font-size="27.3" font-weight="bold" text-anchor="middle" fill="#1e1a1b">0.5</text>
<line x1="296.7" y1="1912.6" x2="296.7" y2="1920.1" stroke="#1e1a1b" stroke-width="2.4" />
<text transform="translate(296.7,1948.2) scale(0.98,1)" font-family="Liberation Sans" font-size="27.3" font-weight="bold" text-anchor="middle" fill="#1e1a1b">1.0</text>
<line x1="358.8" y1="1912.6" x2="358.8" y2="1920.1" stroke="#1e1a1b" stroke-width="2.4" />
<text transform="translate(358.8,1948.2) scale(0.98,1)" font-family="Liberation Sans" font-size="27.3" font-weight="bold" text-anchor="middle" fill="#1e1a1b">1.5</text>
<line x1="420.8" y1="1912.6" x2="420.8" y2="1920.1" stroke="#1e1a1b" stroke-width="2.4" />
<text transform="translate(420.8,1948.2) scale(0.98,1)" font-family="Liberation Sans" font-size="27.3" font-weight="bold" text-anchor="middle" fill="#1e1a1b">2.0</text>
<text transform="translate(49.0,1786.9) rotate(-90)" font-family="Liberation Sans" font-size="26.8" font-weight="bold" text-anchor="middle" fill="#1e1a1b">FRET/CFP</text>
<text transform="translate(290.3,1981.7) scale(0.97,1)" font-family="Liberation Sans" font-size="26.7" font-weight="bold" text-anchor="middle" fill="#1e1a1b">Time (h)</text>
<text x="175.5" y="1687.2" font-family="Liberation Serif" font-size="24" font-weight="normal" text-anchor="start" fill="#231f20" textLength="123" lengthAdjust="spacingAndGlyphs">+ PD98059</text>
<polyline points="172.1,1794.8 234.2,1753.2 296.7,1769.2 420.8,1747.3" fill="none" stroke="#1e1a1b" stroke-width="3.1" stroke-linejoin="round"/>
<line x1="172.1" y1="1774.5" x2="172.1" y2="1815.2" stroke="#1e1a1b" stroke-width="2.4" />
<line x1="167.5" y1="1774.5" x2="176.7" y2="1774.5" stroke="#1e1a1b" stroke-width="2.4" />
<line x1="167.5" y1="1815.2" x2="176.7" y2="1815.2" stroke="#1e1a1b" stroke-width="2.4" />
<line x1="234.2" y1="1730.8" x2="234.2" y2="1775.5" stroke="#1e1a1b" stroke-width="2.4" />
<line x1="229.6" y1="1730.8" x2="238.8" y2="1730.8" stroke="#1e1a1b" stroke-width="2.4" />
<line x1="229.6" y1="1775.5" x2="238.8" y2="1775.5" stroke="#1e1a1b" stroke-width="2.4" />
<line x1="296.7" y1="1746.4" x2="296.7" y2="1793.4" stroke="#1e1a1b" stroke-width="2.4" />
<line x1="292.1" y1="1746.4" x2="301.3" y2="1746.4" stroke="#1e1a1b" stroke-width="2.4" />
<line x1="292.1" y1="1793.4" x2="301.3" y2="1793.4" stroke="#1e1a1b" stroke-width="2.4" />
<line x1="420.8" y1="1724.5" x2="420.8" y2="1769.6" stroke="#1e1a1b" stroke-width="2.4" />
<line x1="416.2" y1="1724.5" x2="425.4" y2="1724.5" stroke="#1e1a1b" stroke-width="2.4" />
<line x1="416.2" y1="1769.6" x2="425.4" y2="1769.6" stroke="#1e1a1b" stroke-width="2.4" />
<circle cx="172.1" cy="1794.8" r="5" fill="#1e1a1b"/>
<circle cx="234.2" cy="1753.2" r="5" fill="#1e1a1b"/>
<circle cx="296.7" cy="1769.2" r="5" fill="#1e1a1b"/>
<circle cx="420.8" cy="1747.3" r="5" fill="#1e1a1b"/>
<line x1="599.3" y1="482.4" x2="599.3" y2="724.1" stroke="#1e1a1b" stroke-width="2.4" />
<line x1="592.6" y1="722.9" x2="600.3" y2="722.9" stroke="#1e1a1b" stroke-width="2.4" />
<text transform="translate(589.4,732.3) scale(1.0,1)" font-family="Liberation Sans" font-size="27.3" font-weight="bold" text-anchor="end" fill="#1e1a1b">0.5</text>
<line x1="592.6" y1="662.4" x2="600.3" y2="662.4" stroke="#1e1a1b" stroke-width="2.4" />
<text transform="translate(589.4,671.8) scale(1.0,1)" font-family="Liberation Sans" font-size="27.3" font-weight="bold" text-anchor="end" fill="#1e1a1b">1.0</text>
<line x1="592.6" y1="602.8" x2="600.3" y2="602.8" stroke="#1e1a1b" stroke-width="2.4" />
<text transform="translate(589.4,612.2) scale(1.0,1)" font-family="Liberation Sans" font-size="27.3" font-weight="bold" text-anchor="end" fill="#1e1a1b">1.5</text>
<line x1="592.6" y1="542.4" x2="600.3" y2="542.4" stroke="#1e1a1b" stroke-width="2.4" />
<text transform="translate(589.4,551.8) scale(1.0,1)" font-family="Liberation Sans" font-size="27.3" font-weight="bold" text-anchor="end" fill="#1e1a1b">2.0</text>
<line x1="592.6" y1="482.4" x2="600.3" y2="482.4" stroke="#1e1a1b" stroke-width="2.4" />
<text transform="translate(589.4,491.8) scale(1.0,1)" font-family="Liberation Sans" font-size="27.3" font-weight="bold" text-anchor="end" fill="#1e1a1b">2.5</text>
<line x1="598.3" y1="722.9" x2="961.2" y2="722.9" stroke="#1e1a1b" stroke-width="2.4" />
<line x1="644.3" y1="721.9" x2="644.3" y2="729.6" stroke="#1e1a1b" stroke-width="2.4" />
<text transform="translate(644.3,757.0) scale(1.0,1)" font-family="Liberation Sans" font-size="27.3" font-weight="bold" text-anchor="middle" fill="#1e1a1b">0</text>
<line x1="734.3" y1="721.9" x2="734.3" y2="729.6" stroke="#1e1a1b" stroke-width="2.4" />
<text transform="translate(734.3,757.0) scale(1.0,1)" font-family="Liberation Sans" font-size="27.3" font-weight="bold" text-anchor="middle" fill="#1e1a1b">0.5</text>
<line x1="824.5" y1="721.9" x2="824.5" y2="729.6" stroke="#1e1a1b" stroke-width="2.4" />
<text transform="translate(824.5,757.0) scale(1.0,1)" font-family="Liberation Sans" font-size="27.3" font-weight="bold" text-anchor="middle" fill="#1e1a1b">1.0</text>
<line x1="914.5" y1="721.9" x2="914.5" y2="729.6" stroke="#1e1a1b" stroke-width="2.4" />
<text transform="translate(914.5,757.0) scale(1.0,1)" font-family="Liberation Sans" font-size="27.3" font-weight="bold" text-anchor="middle" fill="#1e1a1b">2.0</text>
<text transform="translate(537.9,597.0) rotate(-90)" font-family="Liberation Sans" font-size="26.8" font-weight="bold" text-anchor="middle" fill="#1e1a1b">FRET/CFP</text>
<text transform="translate(779.2,791.7) scale(0.97,1)" font-family="Liberation Sans" font-size="26.7" font-weight="bold" text-anchor="middle" fill="#1e1a1b">Time (h)</text>
<polyline points="645.4,514.5 645.4,506.4 734,506.4 734,514.5" fill="none" stroke="#2a2a2a" stroke-width="1.5"/>
<polyline points="645.4,514.5 645.4,489.9 825.2,489.9 825.2,514.5" fill="none" stroke="#2a2a2a" stroke-width="1.5"/>
<polyline points="645.4,514.5 645.4,472.7 914.5,472.7 914.5,514.5" fill="none" stroke="#2a2a2a" stroke-width="1.5"/>
<circle cx="644.2" cy="547.6" r="2.55" fill="#c9b27e"/>
<circle cx="647.8" cy="560.4" r="2.55" fill="#c9b27e"/>
<circle cx="640.4" cy="567.3" r="2.55" fill="#c9b27e"/>
<circle cx="633.3" cy="574.0" r="2.55" fill="#c9b27e"/>
<circle cx="640.5" cy="577.3" r="2.55" fill="#c9b27e"/>
<circle cx="647.8" cy="578.2" r="2.55" fill="#c9b27e"/>
<circle cx="655.1" cy="574.5" r="2.55" fill="#c9b27e"/>
<circle cx="640.5" cy="586.4" r="2.55" fill="#c9b27e"/>
<circle cx="647.8" cy="586.4" r="2.55" fill="#c9b27e"/>
<circle cx="618.7" cy="592.4" r="2.55" fill="#c9b27e"/>
<circle cx="626.0" cy="595.8" r="2.55" fill="#c9b27e"/>
<circle cx="633.3" cy="597.3" r="2.55" fill="#c9b27e"/>
<circle cx="644.2" cy="598.2" r="2.55" fill="#c9b27e"/>
<circle cx="651.5" cy="596.7" r="2.55" fill="#c9b27e"/>
<circle cx="658.7" cy="592.4" r="2.55" fill="#c9b27e"/>
<circle cx="666.0" cy="590.9" r="2.55" fill="#c9b27e"/>
<circle cx="636.9" cy="602.7" r="2.55" fill="#c9b27e"/>
<circle cx="651.5" cy="605.1" r="2.55" fill="#c9b27e"/>
<circle cx="616.9" cy="609.1" r="2.55" fill="#c9b27e"/>
<circle cx="623.3" cy="609.6" r="2.55" fill="#c9b27e"/>
<circle cx="629.1" cy="610.9" r="2.55" fill="#c9b27e"/>
<circle cx="635.1" cy="613.6" r="2.55" fill="#c9b27e"/>
<circle cx="640.9" cy="615.1" r="2.55" fill="#c9b27e"/>
<circle cx="647.3" cy="616.4" r="2.55" fill="#c9b27e"/>
<circle cx="653.3" cy="614.5" r="2.55" fill="#c9b27e"/>
<circle cx="659.5" cy="612.7" r="2.55" fill="#c9b27e"/>
<circle cx="665.5" cy="610.4" r="2.55" fill="#c9b27e"/>
<circle cx="671.5" cy="609.1" r="2.55" fill="#c9b27e"/>
<circle cx="629.6" cy="620.5" r="2.55" fill="#c9b27e"/>
<circle cx="636.9" cy="625.5" r="2.55" fill="#c9b27e"/>
<circle cx="644.2" cy="626.7" r="2.55" fill="#c9b27e"/>
<circle cx="651.5" cy="625.5" r="2.55" fill="#c9b27e"/>
<circle cx="658.7" cy="624.5" r="2.55" fill="#c9b27e"/>
<circle cx="626.0" cy="630.9" r="2.55" fill="#c9b27e"/>
<circle cx="633.3" cy="631.8" r="2.55" fill="#c9b27e"/>
<circle cx="640.5" cy="635.5" r="2.55" fill="#c9b27e"/>
<circle cx="647.8" cy="635.5" r="2.55" fill="#c9b27e"/>
<circle cx="655.1" cy="634.0" r="2.55" fill="#c9b27e"/>
<circle cx="662.4" cy="631.3" r="2.55" fill="#c9b27e"/>
<circle cx="636.9" cy="640.0" r="2.55" fill="#c9b27e"/>
<circle cx="651.5" cy="640.0" r="2.55" fill="#c9b27e"/>
<circle cx="644.2" cy="646.5" r="2.55" fill="#c9b27e"/>
<circle cx="640.5" cy="655.8" r="2.55" fill="#c9b27e"/>
<circle cx="647.8" cy="657.3" r="2.55" fill="#c9b27e"/>
<circle cx="644.2" cy="679.1" r="2.55" fill="#c9b27e"/>
<line x1="616.3" y1="610.8" x2="672.3" y2="610.8" stroke="#1e1a1b" stroke-width="2.6" />
<line x1="644.3" y1="583.5" x2="644.3" y2="638.0" stroke="#1e1a1b" stroke-width="2.6" />
<line x1="636.8" y1="583.5" x2="651.8" y2="583.5" stroke="#1e1a1b" stroke-width="2.6" />
<line x1="636.8" y1="638.0" x2="651.8" y2="638.0" stroke="#1e1a1b" stroke-width="2.6" />
<circle cx="734.2" cy="525.1" r="2.55" fill="#c8141e"/>
<circle cx="730.5" cy="538.2" r="2.55" fill="#c8141e"/>
<circle cx="737.8" cy="540.0" r="2.55" fill="#c8141e"/>
<circle cx="730.5" cy="549.5" r="2.55" fill="#c8141e"/>
<circle cx="737.8" cy="548.7" r="2.55" fill="#c8141e"/>
<circle cx="708.7" cy="555.5" r="2.55" fill="#c8141e"/>
<circle cx="716.4" cy="555.5" r="2.55" fill="#c8141e"/>
<circle cx="723.6" cy="559.1" r="2.55" fill="#c8141e"/>
<circle cx="734.2" cy="560.0" r="2.55" fill="#c8141e"/>
<circle cx="741.5" cy="556.4" r="2.55" fill="#c8141e"/>
<circle cx="748.7" cy="555.5" r="2.55" fill="#c8141e"/>
<circle cx="756.0" cy="554.2" r="2.55" fill="#c8141e"/>
<circle cx="720.0" cy="563.3" r="2.55" fill="#c8141e"/>
<circle cx="727.3" cy="566.4" r="2.55" fill="#c8141e"/>
<circle cx="734.2" cy="568.2" r="2.55" fill="#c8141e"/>
<circle cx="741.5" cy="566.9" r="2.55" fill="#c8141e"/>
<circle cx="748.7" cy="563.6" r="2.55" fill="#c8141e"/>
<circle cx="707.3" cy="570.9" r="2.55" fill="#c8141e"/>
<circle cx="713.1" cy="573.1" r="2.55" fill="#c8141e"/>
<circle cx="719.6" cy="574.2" r="2.55" fill="#c8141e"/>
<circle cx="725.5" cy="574.5" r="2.55" fill="#c8141e"/>
<circle cx="731.3" cy="578.2" r="2.55" fill="#c8141e"/>
<circle cx="737.8" cy="578.2" r="2.55" fill="#c8141e"/>
<circle cx="743.6" cy="576.0" r="2.55" fill="#c8141e"/>
<circle cx="749.5" cy="574.2" r="2.55" fill="#c8141e"/>
<circle cx="755.5" cy="573.6" r="2.55" fill="#c8141e"/>
<circle cx="761.5" cy="570.9" r="2.55" fill="#c8141e"/>
<circle cx="727.3" cy="586.4" r="2.55" fill="#c8141e"/>
<circle cx="734.2" cy="588.2" r="2.55" fill="#c8141e"/>
<circle cx="741.5" cy="587.6" r="2.55" fill="#c8141e"/>
<circle cx="716.4" cy="591.3" r="2.55" fill="#c8141e"/>
<circle cx="723.6" cy="594.2" r="2.55" fill="#c8141e"/>
<circle cx="730.9" cy="595.5" r="2.55" fill="#c8141e"/>
<circle cx="738.2" cy="597.3" r="2.55" fill="#c8141e"/>
<circle cx="745.5" cy="594.9" r="2.55" fill="#c8141e"/>
<circle cx="752.4" cy="591.8" r="2.55" fill="#c8141e"/>
<circle cx="720.0" cy="604.9" r="2.55" fill="#c8141e"/>
<circle cx="727.3" cy="607.3" r="2.55" fill="#c8141e"/>
<circle cx="734.5" cy="610.0" r="2.55" fill="#c8141e"/>
<circle cx="741.8" cy="608.7" r="2.55" fill="#c8141e"/>
<circle cx="748.7" cy="606.7" r="2.55" fill="#c8141e"/>
<circle cx="730.5" cy="614.5" r="2.55" fill="#c8141e"/>
<circle cx="737.8" cy="620.9" r="2.55" fill="#c8141e"/>
<circle cx="726.9" cy="648.2" r="2.55" fill="#c8141e"/>
<circle cx="741.5" cy="650.0" r="2.55" fill="#c8141e"/>
<circle cx="734.2" cy="654.9" r="2.55" fill="#c8141e"/>
<line x1="706.3" y1="581.0" x2="762.3" y2="581.0" stroke="#1e1a1b" stroke-width="2.6" />
<line x1="734.3" y1="553.0" x2="734.3" y2="609.8" stroke="#1e1a1b" stroke-width="2.6" />
<line x1="726.8" y1="553.0" x2="741.8" y2="553.0" stroke="#1e1a1b" stroke-width="2.6" />
<line x1="726.8" y1="609.8" x2="741.8" y2="609.8" stroke="#1e1a1b" stroke-width="2.6" />
<circle cx="824.7" cy="521.7" r="2.55" fill="#dc7b26"/>
<circle cx="828.5" cy="527.8" r="2.55" fill="#dc7b26"/>
<circle cx="820.9" cy="532.1" r="2.55" fill="#dc7b26"/>
<circle cx="824.7" cy="540.7" r="2.55" fill="#dc7b26"/>
<circle cx="809.9" cy="545.5" r="2.55" fill="#dc7b26"/>
<circle cx="839.1" cy="545.5" r="2.55" fill="#dc7b26"/>
<circle cx="817.0" cy="549.9" r="2.55" fill="#dc7b26"/>
<circle cx="831.8" cy="551.4" r="2.55" fill="#dc7b26"/>
<circle cx="820.9" cy="552.8" r="2.55" fill="#dc7b26"/>
<circle cx="828.5" cy="555.7" r="2.55" fill="#dc7b26"/>
<circle cx="802.6" cy="557.0" r="2.55" fill="#dc7b26"/>
<circle cx="809.9" cy="558.2" r="2.55" fill="#dc7b26"/>
<circle cx="820.9" cy="558.5" r="2.55" fill="#dc7b26"/>
<circle cx="828.5" cy="558.5" r="2.55" fill="#dc7b26"/>
<circle cx="839.1" cy="558.9" r="2.55" fill="#dc7b26"/>
<circle cx="846.4" cy="557.2" r="2.55" fill="#dc7b26"/>
<circle cx="814.1" cy="564.9" r="2.55" fill="#dc7b26"/>
<circle cx="835.6" cy="563.7" r="2.55" fill="#dc7b26"/>
<circle cx="820.9" cy="567.8" r="2.55" fill="#dc7b26"/>
<circle cx="828.5" cy="567.6" r="2.55" fill="#dc7b26"/>
<circle cx="806.5" cy="573.3" r="2.55" fill="#dc7b26"/>
<circle cx="813.8" cy="575.8" r="2.55" fill="#dc7b26"/>
<circle cx="818.0" cy="577.7" r="2.55" fill="#dc7b26"/>
<circle cx="835.3" cy="573.3" r="2.55" fill="#dc7b26"/>
<circle cx="842.9" cy="572.6" r="2.55" fill="#dc7b26"/>
<circle cx="839.1" cy="576.8" r="2.55" fill="#dc7b26"/>
<circle cx="824.7" cy="582.5" r="2.55" fill="#dc7b26"/>
<circle cx="831.8" cy="581.0" r="2.55" fill="#dc7b26"/>
<circle cx="806.5" cy="587.9" r="2.55" fill="#dc7b26"/>
<circle cx="813.8" cy="591.2" r="2.55" fill="#dc7b26"/>
<circle cx="824.7" cy="590.2" r="2.55" fill="#dc7b26"/>
<circle cx="831.8" cy="589.3" r="2.55" fill="#dc7b26"/>
<circle cx="839.1" cy="586.4" r="2.55" fill="#dc7b26"/>
<circle cx="809.9" cy="594.6" r="2.55" fill="#dc7b26"/>
<circle cx="817.6" cy="597.3" r="2.55" fill="#dc7b26"/>
<circle cx="831.8" cy="597.9" r="2.55" fill="#dc7b26"/>
<circle cx="839.1" cy="595.0" r="2.55" fill="#dc7b26"/>
<circle cx="824.7" cy="598.8" r="2.55" fill="#dc7b26"/>
<circle cx="820.9" cy="610.0" r="2.55" fill="#dc7b26"/>
<circle cx="828.5" cy="616.3" r="2.55" fill="#dc7b26"/>
<circle cx="817.4" cy="643.0" r="2.55" fill="#dc7b26"/>
<circle cx="824.7" cy="648.8" r="2.55" fill="#dc7b26"/>
<circle cx="831.8" cy="648.4" r="2.55" fill="#dc7b26"/>
<line x1="794.5" y1="574.9" x2="854.5" y2="574.9" stroke="#1e1a1b" stroke-width="2.6" />
<line x1="824.5" y1="546.4" x2="824.5" y2="603.6" stroke="#1e1a1b" stroke-width="2.6" />
<line x1="817.0" y1="546.4" x2="832.0" y2="546.4" stroke="#1e1a1b" stroke-width="2.6" />
<line x1="817.0" y1="603.6" x2="832.0" y2="603.6" stroke="#1e1a1b" stroke-width="2.6" />
<circle cx="918.8" cy="516.7" r="2.55" fill="#4f7a55"/>
<circle cx="911.5" cy="520.2" r="2.55" fill="#4f7a55"/>
<circle cx="911.5" cy="528.2" r="2.55" fill="#4f7a55"/>
<circle cx="918.8" cy="532.2" r="2.55" fill="#4f7a55"/>
<circle cx="918.8" cy="542.2" r="2.55" fill="#4f7a55"/>
<circle cx="904.0" cy="547.0" r="2.55" fill="#4f7a55"/>
<circle cx="911.5" cy="545.1" r="2.55" fill="#4f7a55"/>
<circle cx="911.5" cy="552.8" r="2.55" fill="#4f7a55"/>
<circle cx="922.6" cy="553.4" r="2.55" fill="#4f7a55"/>
<circle cx="929.3" cy="550.3" r="2.55" fill="#4f7a55"/>
<circle cx="896.7" cy="555.3" r="2.55" fill="#4f7a55"/>
<circle cx="904.0" cy="556.8" r="2.55" fill="#4f7a55"/>
<circle cx="918.8" cy="558.5" r="2.55" fill="#4f7a55"/>
<circle cx="925.9" cy="556.0" r="2.55" fill="#4f7a55"/>
<circle cx="933.1" cy="555.3" r="2.55" fill="#4f7a55"/>
<circle cx="911.5" cy="562.4" r="2.55" fill="#4f7a55"/>
<circle cx="922.6" cy="567.6" r="2.55" fill="#4f7a55"/>
<circle cx="907.8" cy="570.1" r="2.55" fill="#4f7a55"/>
<circle cx="914.9" cy="571.0" r="2.55" fill="#4f7a55"/>
<circle cx="889.0" cy="571.4" r="2.55" fill="#4f7a55"/>
<circle cx="896.7" cy="572.0" r="2.55" fill="#4f7a55"/>
<circle cx="904.4" cy="576.4" r="2.55" fill="#4f7a55"/>
<circle cx="911.7" cy="577.7" r="2.55" fill="#4f7a55"/>
<circle cx="918.8" cy="576.8" r="2.55" fill="#4f7a55"/>
<circle cx="925.5" cy="572.9" r="2.55" fill="#4f7a55"/>
<circle cx="933.1" cy="571.6" r="2.55" fill="#4f7a55"/>
<circle cx="940.4" cy="571.6" r="2.55" fill="#4f7a55"/>
<circle cx="900.5" cy="580.6" r="2.55" fill="#4f7a55"/>
<circle cx="907.8" cy="584.1" r="2.55" fill="#4f7a55"/>
<circle cx="914.9" cy="586.4" r="2.55" fill="#4f7a55"/>
<circle cx="922.6" cy="583.5" r="2.55" fill="#4f7a55"/>
<circle cx="929.3" cy="580.2" r="2.55" fill="#4f7a55"/>
<circle cx="904.0" cy="592.1" r="2.55" fill="#4f7a55"/>
<circle cx="911.7" cy="593.7" r="2.55" fill="#4f7a55"/>
<circle cx="918.8" cy="592.5" r="2.55" fill="#4f7a55"/>
<circle cx="925.9" cy="590.2" r="2.55" fill="#4f7a55"/>
<circle cx="900.5" cy="599.8" r="2.55" fill="#4f7a55"/>
<circle cx="907.8" cy="603.6" r="2.55" fill="#4f7a55"/>
<circle cx="914.9" cy="605.2" r="2.55" fill="#4f7a55"/>
<circle cx="922.6" cy="600.8" r="2.55" fill="#4f7a55"/>
<circle cx="929.3" cy="598.5" r="2.55" fill="#4f7a55"/>
<circle cx="918.8" cy="610.7" r="2.55" fill="#4f7a55"/>
<circle cx="907.8" cy="617.5" r="2.55" fill="#4f7a55"/>
<circle cx="911.7" cy="622.8" r="2.55" fill="#4f7a55"/>
<circle cx="918.8" cy="628.0" r="2.55" fill="#4f7a55"/>
<circle cx="914.9" cy="635.7" r="2.55" fill="#4f7a55"/>
<line x1="884.5" y1="574.5" x2="944.5" y2="574.5" stroke="#1e1a1b" stroke-width="2.6" />
<line x1="914.5" y1="547.0" x2="914.5" y2="601.7" stroke="#1e1a1b" stroke-width="2.6" />
<line x1="907.0" y1="547.0" x2="922.0" y2="547.0" stroke="#1e1a1b" stroke-width="2.6" />
<line x1="907.0" y1="601.7" x2="922.0" y2="601.7" stroke="#1e1a1b" stroke-width="2.6" />
<line x1="600.5" y1="1073.6" x2="600.5" y2="1319.8" stroke="#1e1a1b" stroke-width="2.4" />
<line x1="593.8" y1="1318.6" x2="601.5" y2="1318.6" stroke="#1e1a1b" stroke-width="2.4" />
<text transform="translate(590.6,1328.0) scale(1.0,1)" font-family="Liberation Sans" font-size="27.3" font-weight="bold" text-anchor="end" fill="#1e1a1b">0.5</text>
<line x1="593.8" y1="1237.0" x2="601.5" y2="1237.0" stroke="#1e1a1b" stroke-width="2.4" />
<text transform="translate(590.6,1246.4) scale(1.0,1)" font-family="Liberation Sans" font-size="27.3" font-weight="bold" text-anchor="end" fill="#1e1a1b">1.0</text>
<line x1="593.8" y1="1155.3" x2="601.5" y2="1155.3" stroke="#1e1a1b" stroke-width="2.4" />
<text transform="translate(590.6,1164.7) scale(1.0,1)" font-family="Liberation Sans" font-size="27.3" font-weight="bold" text-anchor="end" fill="#1e1a1b">1.5</text>
<line x1="593.8" y1="1073.6" x2="601.5" y2="1073.6" stroke="#1e1a1b" stroke-width="2.4" />
<text transform="translate(590.6,1083.0) scale(1.0,1)" font-family="Liberation Sans" font-size="27.3" font-weight="bold" text-anchor="end" fill="#1e1a1b">2.0</text>
<line x1="599.3" y1="1318.8" x2="968.3" y2="1318.8" stroke="#1e1a1b" stroke-width="2.4" />
<line x1="646.0" y1="1317.8" x2="646.0" y2="1325.5" stroke="#1e1a1b" stroke-width="2.4" />
<text transform="translate(646.0,1353.3) scale(1.0,1)" font-family="Liberation Sans" font-size="27.3" font-weight="bold" text-anchor="middle" fill="#1e1a1b">0</text>
<line x1="738.0" y1="1317.8" x2="738.0" y2="1325.5" stroke="#1e1a1b" stroke-width="2.4" />
<text transform="translate(738.0,1353.3) scale(1.0,1)" font-family="Liberation Sans" font-size="27.3" font-weight="bold" text-anchor="middle" fill="#1e1a1b">0.5</text>
<line x1="829.2" y1="1317.8" x2="829.2" y2="1325.5" stroke="#1e1a1b" stroke-width="2.4" />
<text transform="translate(829.2,1353.3) scale(1.0,1)" font-family="Liberation Sans" font-size="27.3" font-weight="bold" text-anchor="middle" fill="#1e1a1b">1.0</text>
<line x1="921.2" y1="1317.8" x2="921.2" y2="1325.5" stroke="#1e1a1b" stroke-width="2.4" />
<text transform="translate(921.2,1353.3) scale(1.0,1)" font-family="Liberation Sans" font-size="27.3" font-weight="bold" text-anchor="middle" fill="#1e1a1b">2.0</text>
<text transform="translate(538.6,1190.6) rotate(-90)" font-family="Liberation Sans" font-size="27.2" font-weight="bold" text-anchor="middle" fill="#1e1a1b">FRET/CFP</text>
<text transform="translate(783.6,1388.7) scale(0.99,1)" font-family="Liberation Sans" font-size="26.7" font-weight="bold" text-anchor="middle" fill="#1e1a1b">Time (h)</text>
<polyline points="645.8,1111 645.8,1104.1 738.3,1104.1 738.3,1111" fill="none" stroke="#2a2a2a" stroke-width="1.5"/>
<polyline points="645.8,1111 645.8,1088.4 829,1088.4 829,1111" fill="none" stroke="#2a2a2a" stroke-width="1.5"/>
<polyline points="645.8,1111 645.8,1073 921.2,1073 921.2,1111" fill="none" stroke="#2a2a2a" stroke-width="1.5"/>
<circle cx="646.4" cy="1143.6" r="2.55" fill="#c9b27e"/>
<circle cx="642.7" cy="1158.7" r="2.55" fill="#c9b27e"/>
<circle cx="650.0" cy="1161.8" r="2.55" fill="#c9b27e"/>
<circle cx="646.4" cy="1174.9" r="2.55" fill="#c9b27e"/>
<circle cx="642.7" cy="1184.0" r="2.55" fill="#c9b27e"/>
<circle cx="650.0" cy="1185.3" r="2.55" fill="#c9b27e"/>
<circle cx="635.5" cy="1194.5" r="2.55" fill="#c9b27e"/>
<circle cx="657.3" cy="1192.7" r="2.55" fill="#c9b27e"/>
<circle cx="653.6" cy="1200.4" r="2.55" fill="#c9b27e"/>
<circle cx="639.1" cy="1204.5" r="2.55" fill="#c9b27e"/>
<circle cx="646.4" cy="1205.5" r="2.55" fill="#c9b27e"/>
<circle cx="646.4" cy="1213.1" r="2.55" fill="#c9b27e"/>
<circle cx="631.8" cy="1220.0" r="2.55" fill="#c9b27e"/>
<circle cx="639.1" cy="1220.9" r="2.55" fill="#c9b27e"/>
<circle cx="653.6" cy="1220.0" r="2.55" fill="#c9b27e"/>
<circle cx="660.9" cy="1217.3" r="2.55" fill="#c9b27e"/>
<circle cx="621.8" cy="1224.2" r="2.55" fill="#c9b27e"/>
<circle cx="627.3" cy="1225.5" r="2.55" fill="#c9b27e"/>
<circle cx="632.7" cy="1226.0" r="2.55" fill="#c9b27e"/>
<circle cx="639.1" cy="1223.6" r="2.55" fill="#c9b27e"/>
<circle cx="646.4" cy="1224.5" r="2.55" fill="#c9b27e"/>
<circle cx="653.6" cy="1222.4" r="2.55" fill="#c9b27e"/>
<circle cx="659.1" cy="1224.5" r="2.55" fill="#c9b27e"/>
<circle cx="665.5" cy="1224.5" r="2.55" fill="#c9b27e"/>
<circle cx="670.0" cy="1223.6" r="2.55" fill="#c9b27e"/>
<circle cx="638.2" cy="1229.1" r="2.55" fill="#c9b27e"/>
<circle cx="643.6" cy="1230.0" r="2.55" fill="#c9b27e"/>
<circle cx="649.1" cy="1230.4" r="2.55" fill="#c9b27e"/>
<circle cx="654.5" cy="1226.7" r="2.55" fill="#c9b27e"/>
<circle cx="646.4" cy="1239.1" r="2.55" fill="#c9b27e"/>
<circle cx="624.5" cy="1241.3" r="2.55" fill="#c9b27e"/>
<circle cx="631.8" cy="1246.0" r="2.55" fill="#c9b27e"/>
<circle cx="639.1" cy="1246.4" r="2.55" fill="#c9b27e"/>
<circle cx="650.0" cy="1246.4" r="2.55" fill="#c9b27e"/>
<circle cx="657.3" cy="1241.8" r="2.55" fill="#c9b27e"/>
<circle cx="664.5" cy="1240.0" r="2.55" fill="#c9b27e"/>
<circle cx="620.9" cy="1247.3" r="2.55" fill="#c9b27e"/>
<circle cx="628.2" cy="1249.1" r="2.55" fill="#c9b27e"/>
<circle cx="635.5" cy="1250.4" r="2.55" fill="#c9b27e"/>
<circle cx="642.7" cy="1252.7" r="2.55" fill="#c9b27e"/>
<circle cx="650.0" cy="1254.5" r="2.55" fill="#c9b27e"/>
<circle cx="657.3" cy="1250.4" r="2.55" fill="#c9b27e"/>
<circle cx="664.5" cy="1250.0" r="2.55" fill="#c9b27e"/>
<circle cx="671.8" cy="1247.8" r="2.55" fill="#c9b27e"/>
<circle cx="635.5" cy="1260.0" r="2.55" fill="#c9b27e"/>
<circle cx="642.7" cy="1264.9" r="2.55" fill="#c9b27e"/>
<circle cx="650.0" cy="1263.6" r="2.55" fill="#c9b27e"/>
<circle cx="657.3" cy="1259.5" r="2.55" fill="#c9b27e"/>
<line x1="618.0" y1="1223.0" x2="674.0" y2="1223.0" stroke="#1e1a1b" stroke-width="2.6" />
<line x1="646.0" y1="1195.8" x2="646.0" y2="1251.7" stroke="#1e1a1b" stroke-width="2.6" />
<line x1="638.5" y1="1195.8" x2="653.5" y2="1195.8" stroke="#1e1a1b" stroke-width="2.6" />
<line x1="638.5" y1="1251.7" x2="653.5" y2="1251.7" stroke="#1e1a1b" stroke-width="2.6" />
<circle cx="738.2" cy="1120.5" r="2.55" fill="#c8141e"/>
<circle cx="738.2" cy="1130.0" r="2.55" fill="#c8141e"/>
<circle cx="730.9" cy="1137.6" r="2.55" fill="#c8141e"/>
<circle cx="738.2" cy="1141.3" r="2.55" fill="#c8141e"/>
<circle cx="745.5" cy="1138.5" r="2.55" fill="#c8141e"/>
<circle cx="734.5" cy="1148.5" r="2.55" fill="#c8141e"/>
<circle cx="741.8" cy="1148.5" r="2.55" fill="#c8141e"/>
<circle cx="723.6" cy="1154.2" r="2.55" fill="#c8141e"/>
<circle cx="730.9" cy="1158.7" r="2.55" fill="#c8141e"/>
<circle cx="738.2" cy="1159.1" r="2.55" fill="#c8141e"/>
<circle cx="749.1" cy="1158.7" r="2.55" fill="#c8141e"/>
<circle cx="756.4" cy="1158.2" r="2.55" fill="#c8141e"/>
<circle cx="745.5" cy="1164.5" r="2.55" fill="#c8141e"/>
<circle cx="716.4" cy="1173.3" r="2.55" fill="#c8141e"/>
<circle cx="723.6" cy="1174.4" r="2.55" fill="#c8141e"/>
<circle cx="730.9" cy="1170.0" r="2.55" fill="#c8141e"/>
<circle cx="738.2" cy="1170.9" r="2.55" fill="#c8141e"/>
<circle cx="760.0" cy="1174.4" r="2.55" fill="#c8141e"/>
<circle cx="730.9" cy="1179.1" r="2.55" fill="#c8141e"/>
<circle cx="738.2" cy="1180.0" r="2.55" fill="#c8141e"/>
<circle cx="745.5" cy="1179.5" r="2.55" fill="#c8141e"/>
<circle cx="752.7" cy="1178.2" r="2.55" fill="#c8141e"/>
<circle cx="720.0" cy="1182.4" r="2.55" fill="#c8141e"/>
<circle cx="727.3" cy="1186.0" r="2.55" fill="#c8141e"/>
<circle cx="734.5" cy="1186.0" r="2.55" fill="#c8141e"/>
<circle cx="741.8" cy="1187.8" r="2.55" fill="#c8141e"/>
<circle cx="749.1" cy="1186.0" r="2.55" fill="#c8141e"/>
<circle cx="756.4" cy="1186.0" r="2.55" fill="#c8141e"/>
<circle cx="730.9" cy="1191.8" r="2.55" fill="#c8141e"/>
<circle cx="745.5" cy="1193.6" r="2.55" fill="#c8141e"/>
<circle cx="738.2" cy="1198.7" r="2.55" fill="#c8141e"/>
<circle cx="720.0" cy="1206.9" r="2.55" fill="#c8141e"/>
<circle cx="727.3" cy="1209.5" r="2.55" fill="#c8141e"/>
<circle cx="734.5" cy="1211.5" r="2.55" fill="#c8141e"/>
<circle cx="741.8" cy="1214.5" r="2.55" fill="#c8141e"/>
<circle cx="749.1" cy="1210.4" r="2.55" fill="#c8141e"/>
<circle cx="756.4" cy="1207.3" r="2.55" fill="#c8141e"/>
<circle cx="727.3" cy="1221.3" r="2.55" fill="#c8141e"/>
<circle cx="734.5" cy="1224.5" r="2.55" fill="#c8141e"/>
<circle cx="741.8" cy="1224.2" r="2.55" fill="#c8141e"/>
<circle cx="749.1" cy="1220.0" r="2.55" fill="#c8141e"/>
<circle cx="734.5" cy="1238.7" r="2.55" fill="#c8141e"/>
<circle cx="741.8" cy="1243.6" r="2.55" fill="#c8141e"/>
<circle cx="716.4" cy="1247.3" r="2.55" fill="#c8141e"/>
<circle cx="723.6" cy="1249.1" r="2.55" fill="#c8141e"/>
<circle cx="730.9" cy="1251.8" r="2.55" fill="#c8141e"/>
<circle cx="738.2" cy="1252.7" r="2.55" fill="#c8141e"/>
<circle cx="745.5" cy="1251.8" r="2.55" fill="#c8141e"/>
<circle cx="752.7" cy="1250.0" r="2.55" fill="#c8141e"/>
<circle cx="760.0" cy="1248.5" r="2.55" fill="#c8141e"/>
<line x1="708.0" y1="1191.4" x2="768.0" y2="1191.4" stroke="#1e1a1b" stroke-width="2.6" />
<line x1="738.0" y1="1155.2" x2="738.0" y2="1228.0" stroke="#1e1a1b" stroke-width="2.6" />
<line x1="730.5" y1="1155.2" x2="745.5" y2="1155.2" stroke="#1e1a1b" stroke-width="2.6" />
<line x1="730.5" y1="1228.0" x2="745.5" y2="1228.0" stroke="#1e1a1b" stroke-width="2.6" />
<circle cx="829.6" cy="1121.8" r="2.55" fill="#dc7b26"/>
<circle cx="822.4" cy="1141.3" r="2.55" fill="#dc7b26"/>
<circle cx="818.7" cy="1149.5" r="2.55" fill="#dc7b26"/>
<circle cx="826.0" cy="1150.9" r="2.55" fill="#dc7b26"/>
<circle cx="829.6" cy="1148.5" r="2.55" fill="#dc7b26"/>
<circle cx="836.9" cy="1146.7" r="2.55" fill="#dc7b26"/>
<circle cx="844.2" cy="1150.4" r="2.55" fill="#dc7b26"/>
<circle cx="836.9" cy="1156.4" r="2.55" fill="#dc7b26"/>
<circle cx="818.7" cy="1161.3" r="2.55" fill="#dc7b26"/>
<circle cx="840.5" cy="1161.3" r="2.55" fill="#dc7b26"/>
<circle cx="826.0" cy="1164.5" r="2.55" fill="#dc7b26"/>
<circle cx="833.3" cy="1162.7" r="2.55" fill="#dc7b26"/>
<circle cx="822.4" cy="1173.6" r="2.55" fill="#dc7b26"/>
<circle cx="836.9" cy="1170.9" r="2.55" fill="#dc7b26"/>
<circle cx="829.6" cy="1176.4" r="2.55" fill="#dc7b26"/>
<circle cx="818.7" cy="1181.3" r="2.55" fill="#dc7b26"/>
<circle cx="840.5" cy="1179.6" r="2.55" fill="#dc7b26"/>
<circle cx="826.0" cy="1185.1" r="2.55" fill="#dc7b26"/>
<circle cx="833.3" cy="1184.5" r="2.55" fill="#dc7b26"/>
<circle cx="822.4" cy="1191.8" r="2.55" fill="#dc7b26"/>
<circle cx="836.9" cy="1191.5" r="2.55" fill="#dc7b26"/>
<circle cx="829.6" cy="1198.2" r="2.55" fill="#dc7b26"/>
<circle cx="822.4" cy="1205.1" r="2.55" fill="#dc7b26"/>
<circle cx="829.6" cy="1206.0" r="2.55" fill="#dc7b26"/>
<circle cx="836.9" cy="1205.5" r="2.55" fill="#dc7b26"/>
<circle cx="815.1" cy="1209.6" r="2.55" fill="#dc7b26"/>
<circle cx="844.2" cy="1209.5" r="2.55" fill="#dc7b26"/>
<circle cx="822.4" cy="1214.5" r="2.55" fill="#dc7b26"/>
<circle cx="836.9" cy="1213.3" r="2.55" fill="#dc7b26"/>
<circle cx="829.6" cy="1216.4" r="2.55" fill="#dc7b26"/>
<circle cx="818.7" cy="1218.5" r="2.55" fill="#dc7b26"/>
<circle cx="833.3" cy="1218.7" r="2.55" fill="#dc7b26"/>
<circle cx="840.5" cy="1217.8" r="2.55" fill="#dc7b26"/>
<circle cx="826.0" cy="1224.2" r="2.55" fill="#dc7b26"/>
<circle cx="807.8" cy="1227.3" r="2.55" fill="#dc7b26"/>
<circle cx="815.1" cy="1229.5" r="2.55" fill="#dc7b26"/>
<circle cx="822.4" cy="1231.5" r="2.55" fill="#dc7b26"/>
<circle cx="829.6" cy="1231.8" r="2.55" fill="#dc7b26"/>
<circle cx="836.9" cy="1230.4" r="2.55" fill="#dc7b26"/>
<circle cx="844.2" cy="1229.1" r="2.55" fill="#dc7b26"/>
<circle cx="851.5" cy="1224.9" r="2.55" fill="#dc7b26"/>
<circle cx="840.5" cy="1235.1" r="2.55" fill="#dc7b26"/>
<circle cx="818.7" cy="1238.7" r="2.55" fill="#dc7b26"/>
<circle cx="826.0" cy="1241.8" r="2.55" fill="#dc7b26"/>
<circle cx="833.3" cy="1240.5" r="2.55" fill="#dc7b26"/>
<circle cx="818.7" cy="1247.8" r="2.55" fill="#dc7b26"/>
<circle cx="826.0" cy="1249.6" r="2.55" fill="#dc7b26"/>
<circle cx="840.5" cy="1247.8" r="2.55" fill="#dc7b26"/>
<circle cx="833.3" cy="1253.3" r="2.55" fill="#dc7b26"/>
<circle cx="829.6" cy="1260.9" r="2.55" fill="#dc7b26"/>
<line x1="799.2" y1="1200.8" x2="859.2" y2="1200.8" stroke="#1e1a1b" stroke-width="2.6" />
<line x1="829.2" y1="1164.6" x2="829.2" y2="1235.4" stroke="#1e1a1b" stroke-width="2.6" />
<line x1="821.7" y1="1164.6" x2="836.7" y2="1164.6" stroke="#1e1a1b" stroke-width="2.6" />
<line x1="821.7" y1="1235.4" x2="836.7" y2="1235.4" stroke="#1e1a1b" stroke-width="2.6" />
<circle cx="921.5" cy="1124.2" r="2.55" fill="#4f7a55"/>
<circle cx="921.5" cy="1139.1" r="2.55" fill="#4f7a55"/>
<circle cx="925.5" cy="1140.0" r="2.55" fill="#4f7a55"/>
<circle cx="917.8" cy="1146.9" r="2.55" fill="#4f7a55"/>
<circle cx="914.2" cy="1168.2" r="2.55" fill="#4f7a55"/>
<circle cx="917.8" cy="1164.9" r="2.55" fill="#4f7a55"/>
<circle cx="925.1" cy="1167.3" r="2.55" fill="#4f7a55"/>
<circle cx="929.1" cy="1171.8" r="2.55" fill="#4f7a55"/>
<circle cx="921.5" cy="1174.5" r="2.55" fill="#4f7a55"/>
<circle cx="914.2" cy="1184.5" r="2.55" fill="#4f7a55"/>
<circle cx="928.7" cy="1184.2" r="2.55" fill="#4f7a55"/>
<circle cx="921.5" cy="1187.3" r="2.55" fill="#4f7a55"/>
<circle cx="906.9" cy="1193.6" r="2.55" fill="#4f7a55"/>
<circle cx="914.2" cy="1196.4" r="2.55" fill="#4f7a55"/>
<circle cx="928.7" cy="1197.3" r="2.55" fill="#4f7a55"/>
<circle cx="936.0" cy="1194.5" r="2.55" fill="#4f7a55"/>
<circle cx="903.3" cy="1201.8" r="2.55" fill="#4f7a55"/>
<circle cx="910.5" cy="1203.6" r="2.55" fill="#4f7a55"/>
<circle cx="921.5" cy="1200.0" r="2.55" fill="#4f7a55"/>
<circle cx="943.3" cy="1203.1" r="2.55" fill="#4f7a55"/>
<circle cx="932.4" cy="1204.9" r="2.55" fill="#4f7a55"/>
<circle cx="906.9" cy="1209.1" r="2.55" fill="#4f7a55"/>
<circle cx="914.2" cy="1210.0" r="2.55" fill="#4f7a55"/>
<circle cx="917.8" cy="1206.4" r="2.55" fill="#4f7a55"/>
<circle cx="925.1" cy="1208.2" r="2.55" fill="#4f7a55"/>
<circle cx="939.6" cy="1209.1" r="2.55" fill="#4f7a55"/>
<circle cx="921.5" cy="1215.5" r="2.55" fill="#4f7a55"/>
<circle cx="932.4" cy="1214.0" r="2.55" fill="#4f7a55"/>
<circle cx="896.0" cy="1219.1" r="2.55" fill="#4f7a55"/>
<circle cx="903.3" cy="1219.5" r="2.55" fill="#4f7a55"/>
<circle cx="914.2" cy="1220.9" r="2.55" fill="#4f7a55"/>
<circle cx="928.7" cy="1219.8" r="2.55" fill="#4f7a55"/>
<circle cx="936.0" cy="1219.5" r="2.55" fill="#4f7a55"/>
<circle cx="943.3" cy="1218.7" r="2.55" fill="#4f7a55"/>
<circle cx="906.9" cy="1226.0" r="2.55" fill="#4f7a55"/>
<circle cx="921.5" cy="1224.5" r="2.55" fill="#4f7a55"/>
<circle cx="914.2" cy="1230.4" r="2.55" fill="#4f7a55"/>
<circle cx="936.0" cy="1228.5" r="2.55" fill="#4f7a55"/>
<circle cx="903.3" cy="1235.5" r="2.55" fill="#4f7a55"/>
<circle cx="921.5" cy="1233.3" r="2.55" fill="#4f7a55"/>
<circle cx="928.7" cy="1233.3" r="2.55" fill="#4f7a55"/>
<circle cx="943.3" cy="1236.7" r="2.55" fill="#4f7a55"/>
<circle cx="910.5" cy="1240.9" r="2.55" fill="#4f7a55"/>
<circle cx="917.8" cy="1241.8" r="2.55" fill="#4f7a55"/>
<circle cx="925.1" cy="1242.4" r="2.55" fill="#4f7a55"/>
<circle cx="936.0" cy="1240.9" r="2.55" fill="#4f7a55"/>
<circle cx="910.5" cy="1248.7" r="2.55" fill="#4f7a55"/>
<circle cx="917.8" cy="1252.2" r="2.55" fill="#4f7a55"/>
<circle cx="925.1" cy="1250.9" r="2.55" fill="#4f7a55"/>
<circle cx="932.4" cy="1247.6" r="2.55" fill="#4f7a55"/>
<line x1="891.2" y1="1206.7" x2="951.2" y2="1206.7" stroke="#1e1a1b" stroke-width="2.6" />
<line x1="921.2" y1="1176.0" x2="921.2" y2="1237.9" stroke="#1e1a1b" stroke-width="2.6" />
<line x1="913.7" y1="1176.0" x2="928.7" y2="1176.0" stroke="#1e1a1b" stroke-width="2.6" />
<line x1="913.7" y1="1237.9" x2="928.7" y2="1237.9" stroke="#1e1a1b" stroke-width="2.6" />
<line x1="599.0" y1="1672.4" x2="599.0" y2="1914.0" stroke="#1e1a1b" stroke-width="2.4" />
<line x1="592.3" y1="1912.8" x2="600.0" y2="1912.8" stroke="#1e1a1b" stroke-width="2.4" />
<text transform="translate(589.2,1922.2) scale(1.0,1)" font-family="Liberation Sans" font-size="27.3" font-weight="bold" text-anchor="end" fill="#1e1a1b">0.5</text>
<line x1="592.3" y1="1852.4" x2="600.0" y2="1852.4" stroke="#1e1a1b" stroke-width="2.4" />
<text transform="translate(589.2,1861.8) scale(1.0,1)" font-family="Liberation Sans" font-size="27.3" font-weight="bold" text-anchor="end" fill="#1e1a1b">1.0</text>
<line x1="592.3" y1="1793.1" x2="600.0" y2="1793.1" stroke="#1e1a1b" stroke-width="2.4" />
<text transform="translate(589.2,1802.5) scale(1.0,1)" font-family="Liberation Sans" font-size="27.3" font-weight="bold" text-anchor="end" fill="#1e1a1b">1.5</text>
<line x1="592.3" y1="1732.4" x2="600.0" y2="1732.4" stroke="#1e1a1b" stroke-width="2.4" />
<text transform="translate(589.2,1741.8) scale(1.0,1)" font-family="Liberation Sans" font-size="27.3" font-weight="bold" text-anchor="end" fill="#1e1a1b">2.0</text>
<line x1="592.3" y1="1672.4" x2="600.0" y2="1672.4" stroke="#1e1a1b" stroke-width="2.4" />
<text transform="translate(589.2,1681.8) scale(1.0,1)" font-family="Liberation Sans" font-size="27.3" font-weight="bold" text-anchor="end" fill="#1e1a1b">2.5</text>
<line x1="597.8" y1="1912.8" x2="961.2" y2="1912.8" stroke="#1e1a1b" stroke-width="2.4" />
<line x1="643.5" y1="1911.8" x2="643.5" y2="1919.5" stroke="#1e1a1b" stroke-width="2.4" />
<text transform="translate(643.5,1947.0) scale(1.0,1)" font-family="Liberation Sans" font-size="27.3" font-weight="bold" text-anchor="middle" fill="#1e1a1b">0</text>
<line x1="734.1" y1="1911.8" x2="734.1" y2="1919.5" stroke="#1e1a1b" stroke-width="2.4" />
<text transform="translate(734.1,1947.0) scale(1.0,1)" font-family="Liberation Sans" font-size="27.3" font-weight="bold" text-anchor="middle" fill="#1e1a1b">0.5</text>
<line x1="824.7" y1="1911.8" x2="824.7" y2="1919.5" stroke="#1e1a1b" stroke-width="2.4" />
<text transform="translate(824.7,1947.0) scale(1.0,1)" font-family="Liberation Sans" font-size="27.3" font-weight="bold" text-anchor="middle" fill="#1e1a1b">1.0</text>
<line x1="914.8" y1="1911.8" x2="914.8" y2="1919.5" stroke="#1e1a1b" stroke-width="2.4" />
<text transform="translate(914.8,1947.0) scale(1.0,1)" font-family="Liberation Sans" font-size="27.3" font-weight="bold" text-anchor="middle" fill="#1e1a1b">2.0</text>
<text transform="translate(538.0,1787.0) rotate(-90)" font-family="Liberation Sans" font-size="26.8" font-weight="bold" text-anchor="middle" fill="#1e1a1b">FRET/CFP</text>
<text transform="translate(779.2,1981.7) scale(0.97,1)" font-family="Liberation Sans" font-size="26.7" font-weight="bold" text-anchor="middle" fill="#1e1a1b">Time (h)</text>
<line x1="643.5" y1="1687.0" x2="905.9" y2="1687.0" stroke="#2a2a2a" stroke-width="1.5" />
<text x="773.0" y="1678.5" font-family="Liberation Sans" font-size="26" font-weight="normal" text-anchor="middle" fill="#1a1a1a" >ns</text>
<circle cx="644.2" cy="1718.2" r="2.55" fill="#c9b27e"/>
<circle cx="644.2" cy="1749.5" r="2.55" fill="#c9b27e"/>
<circle cx="636.9" cy="1756.4" r="2.55" fill="#c9b27e"/>
<circle cx="644.2" cy="1758.2" r="2.55" fill="#c9b27e"/>
<circle cx="655.1" cy="1757.8" r="2.55" fill="#c9b27e"/>
<circle cx="658.7" cy="1761.8" r="2.55" fill="#c9b27e"/>
<circle cx="629.6" cy="1764.0" r="2.55" fill="#c9b27e"/>
<circle cx="636.9" cy="1764.5" r="2.55" fill="#c9b27e"/>
<circle cx="644.2" cy="1765.8" r="2.55" fill="#c9b27e"/>
<circle cx="651.5" cy="1764.0" r="2.55" fill="#c9b27e"/>
<circle cx="618.7" cy="1773.6" r="2.55" fill="#c9b27e"/>
<circle cx="626.0" cy="1774.9" r="2.55" fill="#c9b27e"/>
<circle cx="633.3" cy="1776.4" r="2.55" fill="#c9b27e"/>
<circle cx="644.2" cy="1776.4" r="2.55" fill="#c9b27e"/>
<circle cx="655.1" cy="1776.4" r="2.55" fill="#c9b27e"/>
<circle cx="662.4" cy="1775.5" r="2.55" fill="#c9b27e"/>
<circle cx="669.6" cy="1774.5" r="2.55" fill="#c9b27e"/>
<circle cx="636.9" cy="1782.7" r="2.55" fill="#c9b27e"/>
<circle cx="651.5" cy="1780.4" r="2.55" fill="#c9b27e"/>
<circle cx="644.2" cy="1784.5" r="2.55" fill="#c9b27e"/>
<circle cx="633.3" cy="1793.6" r="2.55" fill="#c9b27e"/>
<circle cx="640.5" cy="1795.1" r="2.55" fill="#c9b27e"/>
<circle cx="647.8" cy="1794.0" r="2.55" fill="#c9b27e"/>
<circle cx="655.1" cy="1791.3" r="2.55" fill="#c9b27e"/>
<circle cx="618.2" cy="1798.2" r="2.55" fill="#c9b27e"/>
<circle cx="623.6" cy="1799.6" r="2.55" fill="#c9b27e"/>
<circle cx="629.1" cy="1801.8" r="2.55" fill="#c9b27e"/>
<circle cx="634.5" cy="1803.3" r="2.55" fill="#c9b27e"/>
<circle cx="640.0" cy="1804.0" r="2.55" fill="#c9b27e"/>
<circle cx="645.5" cy="1803.6" r="2.55" fill="#c9b27e"/>
<circle cx="650.9" cy="1802.7" r="2.55" fill="#c9b27e"/>
<circle cx="656.4" cy="1801.8" r="2.55" fill="#c9b27e"/>
<circle cx="661.8" cy="1804.5" r="2.55" fill="#c9b27e"/>
<circle cx="670.9" cy="1797.3" r="2.55" fill="#c9b27e"/>
<circle cx="665.5" cy="1800.9" r="2.55" fill="#c9b27e"/>
<circle cx="626.0" cy="1810.0" r="2.55" fill="#c9b27e"/>
<circle cx="633.3" cy="1810.9" r="2.55" fill="#c9b27e"/>
<circle cx="640.5" cy="1811.3" r="2.55" fill="#c9b27e"/>
<circle cx="647.8" cy="1810.9" r="2.55" fill="#c9b27e"/>
<circle cx="655.1" cy="1810.2" r="2.55" fill="#c9b27e"/>
<circle cx="618.2" cy="1813.6" r="2.55" fill="#c9b27e"/>
<circle cx="623.3" cy="1814.2" r="2.55" fill="#c9b27e"/>
<circle cx="628.7" cy="1815.5" r="2.55" fill="#c9b27e"/>
<circle cx="634.2" cy="1816.4" r="2.55" fill="#c9b27e"/>
<circle cx="639.1" cy="1819.1" r="2.55" fill="#c9b27e"/>
<circle cx="645.1" cy="1818.2" r="2.55" fill="#c9b27e"/>
<circle cx="649.6" cy="1817.3" r="2.55" fill="#c9b27e"/>
<circle cx="654.5" cy="1815.5" r="2.55" fill="#c9b27e"/>
<circle cx="660.0" cy="1815.5" r="2.55" fill="#c9b27e"/>
<circle cx="665.1" cy="1813.6" r="2.55" fill="#c9b27e"/>
<circle cx="670.5" cy="1812.4" r="2.55" fill="#c9b27e"/>
<circle cx="638.7" cy="1820.0" r="2.55" fill="#c9b27e"/>
<circle cx="647.8" cy="1820.4" r="2.55" fill="#c9b27e"/>
<circle cx="622.4" cy="1827.3" r="2.55" fill="#c9b27e"/>
<circle cx="629.6" cy="1828.2" r="2.55" fill="#c9b27e"/>
<circle cx="636.9" cy="1829.1" r="2.55" fill="#c9b27e"/>
<circle cx="647.8" cy="1828.2" r="2.55" fill="#c9b27e"/>
<circle cx="658.7" cy="1827.6" r="2.55" fill="#c9b27e"/>
<circle cx="666.0" cy="1826.4" r="2.55" fill="#c9b27e"/>
<circle cx="633.3" cy="1831.8" r="2.55" fill="#c9b27e"/>
<circle cx="655.1" cy="1832.4" r="2.55" fill="#c9b27e"/>
<circle cx="640.5" cy="1834.5" r="2.55" fill="#c9b27e"/>
<circle cx="647.8" cy="1836.4" r="2.55" fill="#c9b27e"/>
<circle cx="644.2" cy="1844.5" r="2.55" fill="#c9b27e"/>
<line x1="615.5" y1="1799.3" x2="671.5" y2="1799.3" stroke="#1e1a1b" stroke-width="2.6" />
<line x1="643.5" y1="1773.5" x2="643.5" y2="1824.5" stroke="#1e1a1b" stroke-width="2.6" />
<line x1="636.0" y1="1773.5" x2="651.0" y2="1773.5" stroke="#1e1a1b" stroke-width="2.6" />
<line x1="636.0" y1="1824.5" x2="651.0" y2="1824.5" stroke="#1e1a1b" stroke-width="2.6" />
<circle cx="745.1" cy="1732.4" r="2.55" fill="#c8141e"/>
<circle cx="723.6" cy="1736.7" r="2.55" fill="#c8141e"/>
<circle cx="730.9" cy="1739.1" r="2.55" fill="#c8141e"/>
<circle cx="738.2" cy="1739.1" r="2.55" fill="#c8141e"/>
<circle cx="723.6" cy="1747.6" r="2.55" fill="#c8141e"/>
<circle cx="730.9" cy="1748.7" r="2.55" fill="#c8141e"/>
<circle cx="745.5" cy="1748.2" r="2.55" fill="#c8141e"/>
<circle cx="727.3" cy="1754.9" r="2.55" fill="#c8141e"/>
<circle cx="738.2" cy="1751.8" r="2.55" fill="#c8141e"/>
<circle cx="734.5" cy="1761.8" r="2.55" fill="#c8141e"/>
<circle cx="741.8" cy="1760.9" r="2.55" fill="#c8141e"/>
<circle cx="741.8" cy="1769.5" r="2.55" fill="#c8141e"/>
<circle cx="745.5" cy="1771.8" r="2.55" fill="#c8141e"/>
<circle cx="723.6" cy="1774.2" r="2.55" fill="#c8141e"/>
<circle cx="730.9" cy="1777.3" r="2.55" fill="#c8141e"/>
<circle cx="738.2" cy="1775.5" r="2.55" fill="#c8141e"/>
<circle cx="707.3" cy="1778.5" r="2.55" fill="#c8141e"/>
<circle cx="714.2" cy="1780.4" r="2.55" fill="#c8141e"/>
<circle cx="720.9" cy="1780.9" r="2.55" fill="#c8141e"/>
<circle cx="728.2" cy="1783.3" r="2.55" fill="#c8141e"/>
<circle cx="734.5" cy="1784.5" r="2.55" fill="#c8141e"/>
<circle cx="741.5" cy="1782.2" r="2.55" fill="#c8141e"/>
<circle cx="748.2" cy="1780.4" r="2.55" fill="#c8141e"/>
<circle cx="755.1" cy="1780.4" r="2.55" fill="#c8141e"/>
<circle cx="761.8" cy="1778.2" r="2.55" fill="#c8141e"/>
<circle cx="712.7" cy="1786.4" r="2.55" fill="#c8141e"/>
<circle cx="752.7" cy="1785.5" r="2.55" fill="#c8141e"/>
<circle cx="720.0" cy="1791.3" r="2.55" fill="#c8141e"/>
<circle cx="730.9" cy="1791.8" r="2.55" fill="#c8141e"/>
<circle cx="738.2" cy="1790.9" r="2.55" fill="#c8141e"/>
<circle cx="745.5" cy="1790.0" r="2.55" fill="#c8141e"/>
<circle cx="723.6" cy="1798.2" r="2.55" fill="#c8141e"/>
<circle cx="730.9" cy="1799.6" r="2.55" fill="#c8141e"/>
<circle cx="738.2" cy="1799.6" r="2.55" fill="#c8141e"/>
<circle cx="745.5" cy="1798.5" r="2.55" fill="#c8141e"/>
<circle cx="752.7" cy="1796.7" r="2.55" fill="#c8141e"/>
<circle cx="720.0" cy="1802.2" r="2.55" fill="#c8141e"/>
<circle cx="727.3" cy="1804.5" r="2.55" fill="#c8141e"/>
<circle cx="741.8" cy="1805.1" r="2.55" fill="#c8141e"/>
<circle cx="749.1" cy="1802.7" r="2.55" fill="#c8141e"/>
<circle cx="707.3" cy="1810.0" r="2.55" fill="#c8141e"/>
<circle cx="713.6" cy="1810.9" r="2.55" fill="#c8141e"/>
<circle cx="720.0" cy="1811.8" r="2.55" fill="#c8141e"/>
<circle cx="725.5" cy="1814.5" r="2.55" fill="#c8141e"/>
<circle cx="731.8" cy="1816.4" r="2.55" fill="#c8141e"/>
<circle cx="738.2" cy="1816.4" r="2.55" fill="#c8141e"/>
<circle cx="743.6" cy="1815.5" r="2.55" fill="#c8141e"/>
<circle cx="749.5" cy="1812.4" r="2.55" fill="#c8141e"/>
<circle cx="755.5" cy="1810.9" r="2.55" fill="#c8141e"/>
<circle cx="761.5" cy="1810.9" r="2.55" fill="#c8141e"/>
<circle cx="707.3" cy="1819.1" r="2.55" fill="#c8141e"/>
<circle cx="714.2" cy="1820.9" r="2.55" fill="#c8141e"/>
<circle cx="720.9" cy="1822.2" r="2.55" fill="#c8141e"/>
<circle cx="727.3" cy="1823.6" r="2.55" fill="#c8141e"/>
<circle cx="734.5" cy="1825.5" r="2.55" fill="#c8141e"/>
<circle cx="741.5" cy="1824.5" r="2.55" fill="#c8141e"/>
<circle cx="748.2" cy="1822.7" r="2.55" fill="#c8141e"/>
<circle cx="755.1" cy="1821.5" r="2.55" fill="#c8141e"/>
<circle cx="761.8" cy="1819.6" r="2.55" fill="#c8141e"/>
<circle cx="723.6" cy="1831.8" r="2.55" fill="#c8141e"/>
<circle cx="730.9" cy="1834.5" r="2.55" fill="#c8141e"/>
<circle cx="738.2" cy="1834.9" r="2.55" fill="#c8141e"/>
<circle cx="745.5" cy="1832.7" r="2.55" fill="#c8141e"/>
<circle cx="734.5" cy="1845.5" r="2.55" fill="#c8141e"/>
<line x1="704.1" y1="1792.3" x2="764.1" y2="1792.3" stroke="#1e1a1b" stroke-width="2.6" />
<line x1="734.1" y1="1764.6" x2="734.1" y2="1820.6" stroke="#1e1a1b" stroke-width="2.6" />
<line x1="726.6" y1="1764.6" x2="741.6" y2="1764.6" stroke="#1e1a1b" stroke-width="2.6" />
<line x1="726.6" y1="1820.6" x2="741.6" y2="1820.6" stroke="#1e1a1b" stroke-width="2.6" />
<circle cx="817.6" cy="1719.6" r="2.55" fill="#dc7b26"/>
<circle cx="832.2" cy="1723.6" r="2.55" fill="#dc7b26"/>
<circle cx="824.9" cy="1727.3" r="2.55" fill="#dc7b26"/>
<circle cx="824.9" cy="1735.6" r="2.55" fill="#dc7b26"/>
<circle cx="824.9" cy="1749.1" r="2.55" fill="#dc7b26"/>
<circle cx="810.4" cy="1757.3" r="2.55" fill="#dc7b26"/>
<circle cx="817.6" cy="1759.6" r="2.55" fill="#dc7b26"/>
<circle cx="824.9" cy="1759.6" r="2.55" fill="#dc7b26"/>
<circle cx="832.2" cy="1758.7" r="2.55" fill="#dc7b26"/>
<circle cx="839.5" cy="1754.9" r="2.55" fill="#dc7b26"/>
<circle cx="806.7" cy="1766.4" r="2.55" fill="#dc7b26"/>
<circle cx="814.0" cy="1769.1" r="2.55" fill="#dc7b26"/>
<circle cx="821.3" cy="1768.7" r="2.55" fill="#dc7b26"/>
<circle cx="828.5" cy="1769.1" r="2.55" fill="#dc7b26"/>
<circle cx="835.8" cy="1767.6" r="2.55" fill="#dc7b26"/>
<circle cx="843.1" cy="1765.8" r="2.55" fill="#dc7b26"/>
<circle cx="817.6" cy="1778.5" r="2.55" fill="#dc7b26"/>
<circle cx="832.2" cy="1776.4" r="2.55" fill="#dc7b26"/>
<circle cx="803.1" cy="1785.5" r="2.55" fill="#dc7b26"/>
<circle cx="810.4" cy="1788.7" r="2.55" fill="#dc7b26"/>
<circle cx="817.6" cy="1791.3" r="2.55" fill="#dc7b26"/>
<circle cx="824.9" cy="1792.7" r="2.55" fill="#dc7b26"/>
<circle cx="832.2" cy="1792.4" r="2.55" fill="#dc7b26"/>
<circle cx="839.5" cy="1790.5" r="2.55" fill="#dc7b26"/>
<circle cx="846.7" cy="1786.4" r="2.55" fill="#dc7b26"/>
<circle cx="800.9" cy="1797.8" r="2.55" fill="#dc7b26"/>
<circle cx="806.4" cy="1799.1" r="2.55" fill="#dc7b26"/>
<circle cx="811.8" cy="1800.0" r="2.55" fill="#dc7b26"/>
<circle cx="817.3" cy="1800.9" r="2.55" fill="#dc7b26"/>
<circle cx="822.7" cy="1801.8" r="2.55" fill="#dc7b26"/>
<circle cx="827.3" cy="1802.7" r="2.55" fill="#dc7b26"/>
<circle cx="832.7" cy="1800.9" r="2.55" fill="#dc7b26"/>
<circle cx="838.2" cy="1800.4" r="2.55" fill="#dc7b26"/>
<circle cx="843.3" cy="1799.1" r="2.55" fill="#dc7b26"/>
<circle cx="848.2" cy="1798.5" r="2.55" fill="#dc7b26"/>
<circle cx="806.7" cy="1805.8" r="2.55" fill="#dc7b26"/>
<circle cx="814.0" cy="1809.1" r="2.55" fill="#dc7b26"/>
<circle cx="821.3" cy="1810.0" r="2.55" fill="#dc7b26"/>
<circle cx="828.5" cy="1810.0" r="2.55" fill="#dc7b26"/>
<circle cx="835.8" cy="1806.4" r="2.55" fill="#dc7b26"/>
<circle cx="843.1" cy="1804.9" r="2.55" fill="#dc7b26"/>
<circle cx="797.3" cy="1811.8" r="2.55" fill="#dc7b26"/>
<circle cx="804.2" cy="1811.8" r="2.55" fill="#dc7b26"/>
<circle cx="810.9" cy="1814.2" r="2.55" fill="#dc7b26"/>
<circle cx="817.8" cy="1817.3" r="2.55" fill="#dc7b26"/>
<circle cx="824.5" cy="1817.8" r="2.55" fill="#dc7b26"/>
<circle cx="831.8" cy="1815.5" r="2.55" fill="#dc7b26"/>
<circle cx="838.5" cy="1813.6" r="2.55" fill="#dc7b26"/>
<circle cx="845.5" cy="1811.8" r="2.55" fill="#dc7b26"/>
<circle cx="852.2" cy="1810.9" r="2.55" fill="#dc7b26"/>
<circle cx="810.4" cy="1819.1" r="2.55" fill="#dc7b26"/>
<circle cx="817.6" cy="1824.5" r="2.55" fill="#dc7b26"/>
<circle cx="824.9" cy="1825.5" r="2.55" fill="#dc7b26"/>
<circle cx="832.2" cy="1824.5" r="2.55" fill="#dc7b26"/>
<circle cx="839.5" cy="1823.3" r="2.55" fill="#dc7b26"/>
<circle cx="806.7" cy="1829.5" r="2.55" fill="#dc7b26"/>
<circle cx="814.0" cy="1830.5" r="2.55" fill="#dc7b26"/>
<circle cx="821.3" cy="1831.3" r="2.55" fill="#dc7b26"/>
<circle cx="835.8" cy="1830.9" r="2.55" fill="#dc7b26"/>
<circle cx="843.1" cy="1830.0" r="2.55" fill="#dc7b26"/>
<circle cx="817.6" cy="1835.5" r="2.55" fill="#dc7b26"/>
<circle cx="828.5" cy="1834.2" r="2.55" fill="#dc7b26"/>
<circle cx="824.9" cy="1841.8" r="2.55" fill="#dc7b26"/>
<circle cx="832.2" cy="1839.6" r="2.55" fill="#dc7b26"/>
<line x1="794.7" y1="1794.8" x2="854.7" y2="1794.8" stroke="#1e1a1b" stroke-width="2.6" />
<line x1="824.7" y1="1767.0" x2="824.7" y2="1824.0" stroke="#1e1a1b" stroke-width="2.6" />
<line x1="817.2" y1="1767.0" x2="832.2" y2="1767.0" stroke="#1e1a1b" stroke-width="2.6" />
<line x1="817.2" y1="1824.0" x2="832.2" y2="1824.0" stroke="#1e1a1b" stroke-width="2.6" />
<circle cx="908.2" cy="1722.7" r="2.55" fill="#4f7a55"/>
<circle cx="922.4" cy="1721.3" r="2.55" fill="#4f7a55"/>
<circle cx="914.9" cy="1726.9" r="2.55" fill="#4f7a55"/>
<circle cx="914.9" cy="1743.6" r="2.55" fill="#4f7a55"/>
<circle cx="908.2" cy="1752.2" r="2.55" fill="#4f7a55"/>
<circle cx="914.9" cy="1753.1" r="2.55" fill="#4f7a55"/>
<circle cx="922.4" cy="1749.5" r="2.55" fill="#4f7a55"/>
<circle cx="904.2" cy="1756.0" r="2.55" fill="#4f7a55"/>
<circle cx="918.7" cy="1756.4" r="2.55" fill="#4f7a55"/>
<circle cx="926.0" cy="1755.5" r="2.55" fill="#4f7a55"/>
<circle cx="911.5" cy="1760.4" r="2.55" fill="#4f7a55"/>
<circle cx="900.5" cy="1766.4" r="2.55" fill="#4f7a55"/>
<circle cx="907.8" cy="1768.2" r="2.55" fill="#4f7a55"/>
<circle cx="922.4" cy="1767.3" r="2.55" fill="#4f7a55"/>
<circle cx="929.6" cy="1765.5" r="2.55" fill="#4f7a55"/>
<circle cx="915.1" cy="1778.2" r="2.55" fill="#4f7a55"/>
<circle cx="889.6" cy="1780.0" r="2.55" fill="#4f7a55"/>
<circle cx="896.9" cy="1781.3" r="2.55" fill="#4f7a55"/>
<circle cx="904.2" cy="1784.0" r="2.55" fill="#4f7a55"/>
<circle cx="911.5" cy="1784.5" r="2.55" fill="#4f7a55"/>
<circle cx="918.7" cy="1785.5" r="2.55" fill="#4f7a55"/>
<circle cx="926.0" cy="1784.0" r="2.55" fill="#4f7a55"/>
<circle cx="933.3" cy="1783.3" r="2.55" fill="#4f7a55"/>
<circle cx="940.5" cy="1781.3" r="2.55" fill="#4f7a55"/>
<circle cx="893.3" cy="1788.7" r="2.55" fill="#4f7a55"/>
<circle cx="900.5" cy="1790.0" r="2.55" fill="#4f7a55"/>
<circle cx="907.8" cy="1792.4" r="2.55" fill="#4f7a55"/>
<circle cx="922.4" cy="1793.1" r="2.55" fill="#4f7a55"/>
<circle cx="929.6" cy="1791.8" r="2.55" fill="#4f7a55"/>
<circle cx="936.9" cy="1788.7" r="2.55" fill="#4f7a55"/>
<circle cx="887.8" cy="1797.8" r="2.55" fill="#4f7a55"/>
<circle cx="894.5" cy="1799.1" r="2.55" fill="#4f7a55"/>
<circle cx="901.5" cy="1800.4" r="2.55" fill="#4f7a55"/>
<circle cx="908.2" cy="1802.7" r="2.55" fill="#4f7a55"/>
<circle cx="915.1" cy="1803.3" r="2.55" fill="#4f7a55"/>
<circle cx="922.4" cy="1800.9" r="2.55" fill="#4f7a55"/>
<circle cx="928.7" cy="1799.6" r="2.55" fill="#4f7a55"/>
<circle cx="935.5" cy="1798.5" r="2.55" fill="#4f7a55"/>
<circle cx="942.4" cy="1797.3" r="2.55" fill="#4f7a55"/>
<circle cx="888.7" cy="1804.0" r="2.55" fill="#4f7a55"/>
<circle cx="893.6" cy="1805.1" r="2.55" fill="#4f7a55"/>
<circle cx="898.2" cy="1806.4" r="2.55" fill="#4f7a55"/>
<circle cx="902.7" cy="1808.7" r="2.55" fill="#4f7a55"/>
<circle cx="907.3" cy="1809.1" r="2.55" fill="#4f7a55"/>
<circle cx="911.8" cy="1809.5" r="2.55" fill="#4f7a55"/>
<circle cx="918.2" cy="1810.5" r="2.55" fill="#4f7a55"/>
<circle cx="923.6" cy="1809.1" r="2.55" fill="#4f7a55"/>
<circle cx="928.2" cy="1808.7" r="2.55" fill="#4f7a55"/>
<circle cx="932.7" cy="1807.6" r="2.55" fill="#4f7a55"/>
<circle cx="937.3" cy="1805.8" r="2.55" fill="#4f7a55"/>
<circle cx="941.8" cy="1804.5" r="2.55" fill="#4f7a55"/>
<circle cx="893.3" cy="1820.4" r="2.55" fill="#4f7a55"/>
<circle cx="907.8" cy="1817.8" r="2.55" fill="#4f7a55"/>
<circle cx="922.4" cy="1817.8" r="2.55" fill="#4f7a55"/>
<circle cx="933.3" cy="1820.4" r="2.55" fill="#4f7a55"/>
<circle cx="900.5" cy="1825.8" r="2.55" fill="#4f7a55"/>
<circle cx="907.8" cy="1827.6" r="2.55" fill="#4f7a55"/>
<circle cx="918.7" cy="1827.3" r="2.55" fill="#4f7a55"/>
<circle cx="926.0" cy="1825.5" r="2.55" fill="#4f7a55"/>
<circle cx="911.5" cy="1832.4" r="2.55" fill="#4f7a55"/>
<circle cx="922.4" cy="1835.5" r="2.55" fill="#4f7a55"/>
<circle cx="911.5" cy="1844.5" r="2.55" fill="#4f7a55"/>
<circle cx="918.7" cy="1842.7" r="2.55" fill="#4f7a55"/>
<line x1="884.8" y1="1791.9" x2="944.8" y2="1791.9" stroke="#1e1a1b" stroke-width="2.6" />
<line x1="914.8" y1="1763.6" x2="914.8" y2="1819.0" stroke="#1e1a1b" stroke-width="2.6" />
<line x1="907.3" y1="1763.6" x2="922.3" y2="1763.6" stroke="#1e1a1b" stroke-width="2.6" />
<line x1="907.3" y1="1819.0" x2="922.3" y2="1819.0" stroke="#1e1a1b" stroke-width="2.6" />
<text x="690.2" y="512.6" font-family="Liberation Sans" font-size="27" font-weight="normal" text-anchor="middle" fill="#1a1a1a" >****</text>
<text x="740.1" y="495.7" font-family="Liberation Sans" font-size="27" font-weight="normal" text-anchor="middle" fill="#1a1a1a" >****</text>
<text x="784.9" y="478.8" font-family="Liberation Sans" font-size="27" font-weight="normal" text-anchor="middle" fill="#1a1a1a" >****</text>
<text x="694.0" y="1110.3" font-family="Liberation Sans" font-size="27" font-weight="normal" text-anchor="middle" fill="#1a1a1a" >****</text>
<text x="736.9" y="1094.5" font-family="Liberation Sans" font-size="27" font-weight="normal" text-anchor="middle" fill="#1a1a1a" >***</text>
<text x="788.0" y="1079.2" font-family="Liberation Sans" font-size="27" font-weight="normal" text-anchor="middle" fill="#1a1a1a" >**</text>
</svg></body></html>
